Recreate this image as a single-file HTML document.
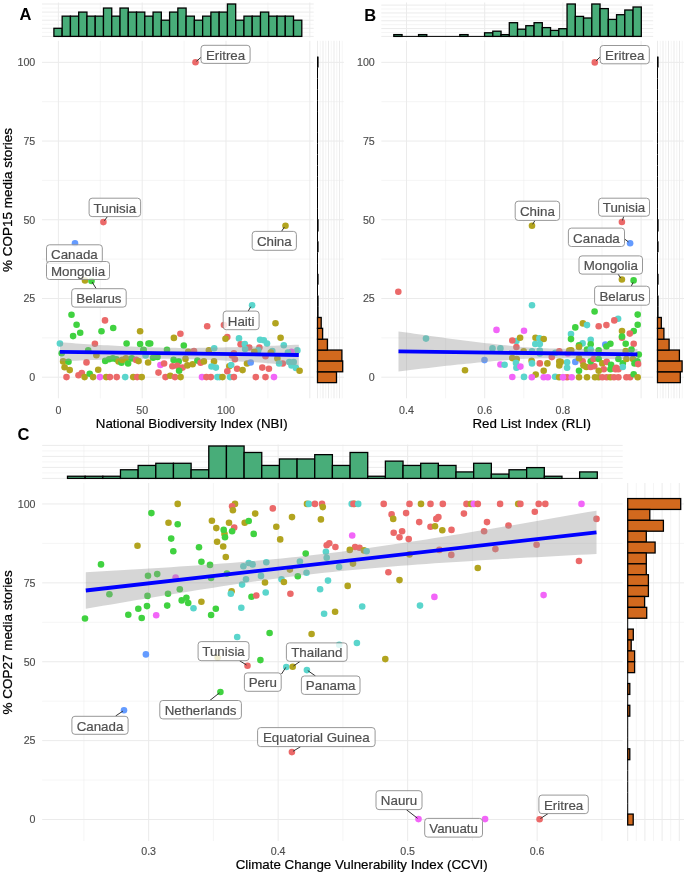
<!DOCTYPE html>
<html><head><meta charset="utf-8"><style>
html,body{margin:0;padding:0;background:#fff;}
svg{display:block;font-family:"Liberation Sans",sans-serif;will-change:transform;}
text{stroke-linejoin:round;}
</style></head><body>
<svg width="685" height="875" viewBox="0 0 685 875">
<rect width="685" height="875" fill="#fff"/>
<line x1="42" y1="36.4" x2="313.7" y2="36.4" stroke="#EBEBEB" stroke-width="1.0"/>
<line x1="42" y1="32.35" x2="313.7" y2="32.35" stroke="#EBEBEB" stroke-width="0.5"/>
<line x1="42" y1="28.3" x2="313.7" y2="28.3" stroke="#EBEBEB" stroke-width="1.0"/>
<line x1="42" y1="24.25" x2="313.7" y2="24.25" stroke="#EBEBEB" stroke-width="0.5"/>
<line x1="42" y1="20.2" x2="313.7" y2="20.2" stroke="#EBEBEB" stroke-width="1.0"/>
<line x1="42" y1="16.15" x2="313.7" y2="16.15" stroke="#EBEBEB" stroke-width="0.5"/>
<line x1="42" y1="12.1" x2="313.7" y2="12.1" stroke="#EBEBEB" stroke-width="1.0"/>
<line x1="42" y1="8.05" x2="313.7" y2="8.05" stroke="#EBEBEB" stroke-width="0.5"/>
<line x1="42" y1="4" x2="313.7" y2="4" stroke="#EBEBEB" stroke-width="1.0"/>
<line x1="58.4" y1="2.5" x2="58.4" y2="37.6" stroke="#EBEBEB" stroke-width="1.0"/>
<line x1="100.3" y1="2.5" x2="100.3" y2="37.6" stroke="#EBEBEB" stroke-width="0.5"/>
<line x1="142.2" y1="2.5" x2="142.2" y2="37.6" stroke="#EBEBEB" stroke-width="1.0"/>
<line x1="184.1" y1="2.5" x2="184.1" y2="37.6" stroke="#EBEBEB" stroke-width="0.5"/>
<line x1="226" y1="2.5" x2="226" y2="37.6" stroke="#EBEBEB" stroke-width="1.0"/>
<line x1="267.9" y1="2.5" x2="267.9" y2="37.6" stroke="#EBEBEB" stroke-width="0.5"/>
<line x1="309.8" y1="2.5" x2="309.8" y2="37.6" stroke="#EBEBEB" stroke-width="1.0"/>
<line x1="42" y1="377.2" x2="313.7" y2="377.2" stroke="#EBEBEB" stroke-width="1.0"/>
<line x1="42" y1="337.84" x2="313.7" y2="337.84" stroke="#EBEBEB" stroke-width="0.5"/>
<line x1="42" y1="298.48" x2="313.7" y2="298.48" stroke="#EBEBEB" stroke-width="1.0"/>
<line x1="42" y1="259.12" x2="313.7" y2="259.12" stroke="#EBEBEB" stroke-width="0.5"/>
<line x1="42" y1="219.76" x2="313.7" y2="219.76" stroke="#EBEBEB" stroke-width="1.0"/>
<line x1="42" y1="180.4" x2="313.7" y2="180.4" stroke="#EBEBEB" stroke-width="0.5"/>
<line x1="42" y1="141.04" x2="313.7" y2="141.04" stroke="#EBEBEB" stroke-width="1.0"/>
<line x1="42" y1="101.68" x2="313.7" y2="101.68" stroke="#EBEBEB" stroke-width="0.5"/>
<line x1="42" y1="62.32" x2="313.7" y2="62.32" stroke="#EBEBEB" stroke-width="1.0"/>
<line x1="58.4" y1="40.8" x2="58.4" y2="398.3" stroke="#EBEBEB" stroke-width="1.0"/>
<line x1="100.3" y1="40.8" x2="100.3" y2="398.3" stroke="#EBEBEB" stroke-width="0.5"/>
<line x1="142.2" y1="40.8" x2="142.2" y2="398.3" stroke="#EBEBEB" stroke-width="1.0"/>
<line x1="184.1" y1="40.8" x2="184.1" y2="398.3" stroke="#EBEBEB" stroke-width="0.5"/>
<line x1="226" y1="40.8" x2="226" y2="398.3" stroke="#EBEBEB" stroke-width="1.0"/>
<line x1="267.9" y1="40.8" x2="267.9" y2="398.3" stroke="#EBEBEB" stroke-width="0.5"/>
<line x1="309.8" y1="40.8" x2="309.8" y2="398.3" stroke="#EBEBEB" stroke-width="1.0"/>
<line x1="316.5" y1="377.2" x2="343.9" y2="377.2" stroke="#EBEBEB" stroke-width="1.0"/>
<line x1="316.5" y1="337.84" x2="343.9" y2="337.84" stroke="#EBEBEB" stroke-width="0.5"/>
<line x1="316.5" y1="298.48" x2="343.9" y2="298.48" stroke="#EBEBEB" stroke-width="1.0"/>
<line x1="316.5" y1="259.12" x2="343.9" y2="259.12" stroke="#EBEBEB" stroke-width="0.5"/>
<line x1="316.5" y1="219.76" x2="343.9" y2="219.76" stroke="#EBEBEB" stroke-width="1.0"/>
<line x1="316.5" y1="180.4" x2="343.9" y2="180.4" stroke="#EBEBEB" stroke-width="0.5"/>
<line x1="316.5" y1="141.04" x2="343.9" y2="141.04" stroke="#EBEBEB" stroke-width="1.0"/>
<line x1="316.5" y1="101.68" x2="343.9" y2="101.68" stroke="#EBEBEB" stroke-width="0.5"/>
<line x1="316.5" y1="62.32" x2="343.9" y2="62.32" stroke="#EBEBEB" stroke-width="1.0"/>
<line x1="317.5" y1="40.8" x2="317.5" y2="398.3" stroke="#EBEBEB" stroke-width="1.0"/>
<line x1="320.25" y1="40.8" x2="320.25" y2="398.3" stroke="#EBEBEB" stroke-width="0.5"/>
<line x1="323" y1="40.8" x2="323" y2="398.3" stroke="#EBEBEB" stroke-width="1.0"/>
<line x1="325.75" y1="40.8" x2="325.75" y2="398.3" stroke="#EBEBEB" stroke-width="0.5"/>
<line x1="328.5" y1="40.8" x2="328.5" y2="398.3" stroke="#EBEBEB" stroke-width="1.0"/>
<line x1="331.25" y1="40.8" x2="331.25" y2="398.3" stroke="#EBEBEB" stroke-width="0.5"/>
<line x1="334" y1="40.8" x2="334" y2="398.3" stroke="#EBEBEB" stroke-width="1.0"/>
<line x1="336.75" y1="40.8" x2="336.75" y2="398.3" stroke="#EBEBEB" stroke-width="0.5"/>
<line x1="339.5" y1="40.8" x2="339.5" y2="398.3" stroke="#EBEBEB" stroke-width="1.0"/>
<line x1="342.25" y1="40.8" x2="342.25" y2="398.3" stroke="#EBEBEB" stroke-width="0.5"/>
<line x1="381.3" y1="36.4" x2="653.2" y2="36.4" stroke="#EBEBEB" stroke-width="1.0"/>
<line x1="381.3" y1="32.49" x2="653.2" y2="32.49" stroke="#EBEBEB" stroke-width="0.5"/>
<line x1="381.3" y1="28.58" x2="653.2" y2="28.58" stroke="#EBEBEB" stroke-width="1.0"/>
<line x1="381.3" y1="24.67" x2="653.2" y2="24.67" stroke="#EBEBEB" stroke-width="0.5"/>
<line x1="381.3" y1="20.76" x2="653.2" y2="20.76" stroke="#EBEBEB" stroke-width="1.0"/>
<line x1="381.3" y1="16.85" x2="653.2" y2="16.85" stroke="#EBEBEB" stroke-width="0.5"/>
<line x1="381.3" y1="12.94" x2="653.2" y2="12.94" stroke="#EBEBEB" stroke-width="1.0"/>
<line x1="381.3" y1="9.03" x2="653.2" y2="9.03" stroke="#EBEBEB" stroke-width="0.5"/>
<line x1="381.3" y1="5.12" x2="653.2" y2="5.12" stroke="#EBEBEB" stroke-width="1.0"/>
<line x1="406.5" y1="2.5" x2="406.5" y2="37.6" stroke="#EBEBEB" stroke-width="1.0"/>
<line x1="445.6" y1="2.5" x2="445.6" y2="37.6" stroke="#EBEBEB" stroke-width="0.5"/>
<line x1="484.7" y1="2.5" x2="484.7" y2="37.6" stroke="#EBEBEB" stroke-width="1.0"/>
<line x1="523.8" y1="2.5" x2="523.8" y2="37.6" stroke="#EBEBEB" stroke-width="0.5"/>
<line x1="562.9" y1="2.5" x2="562.9" y2="37.6" stroke="#EBEBEB" stroke-width="1.0"/>
<line x1="602" y1="2.5" x2="602" y2="37.6" stroke="#EBEBEB" stroke-width="0.5"/>
<line x1="641.1" y1="2.5" x2="641.1" y2="37.6" stroke="#EBEBEB" stroke-width="1.0"/>
<line x1="381.3" y1="377.2" x2="653.2" y2="377.2" stroke="#EBEBEB" stroke-width="1.0"/>
<line x1="381.3" y1="337.84" x2="653.2" y2="337.84" stroke="#EBEBEB" stroke-width="0.5"/>
<line x1="381.3" y1="298.48" x2="653.2" y2="298.48" stroke="#EBEBEB" stroke-width="1.0"/>
<line x1="381.3" y1="259.12" x2="653.2" y2="259.12" stroke="#EBEBEB" stroke-width="0.5"/>
<line x1="381.3" y1="219.76" x2="653.2" y2="219.76" stroke="#EBEBEB" stroke-width="1.0"/>
<line x1="381.3" y1="180.4" x2="653.2" y2="180.4" stroke="#EBEBEB" stroke-width="0.5"/>
<line x1="381.3" y1="141.04" x2="653.2" y2="141.04" stroke="#EBEBEB" stroke-width="1.0"/>
<line x1="381.3" y1="101.68" x2="653.2" y2="101.68" stroke="#EBEBEB" stroke-width="0.5"/>
<line x1="381.3" y1="62.32" x2="653.2" y2="62.32" stroke="#EBEBEB" stroke-width="1.0"/>
<line x1="406.5" y1="40.8" x2="406.5" y2="398.3" stroke="#EBEBEB" stroke-width="1.0"/>
<line x1="445.6" y1="40.8" x2="445.6" y2="398.3" stroke="#EBEBEB" stroke-width="0.5"/>
<line x1="484.7" y1="40.8" x2="484.7" y2="398.3" stroke="#EBEBEB" stroke-width="1.0"/>
<line x1="523.8" y1="40.8" x2="523.8" y2="398.3" stroke="#EBEBEB" stroke-width="0.5"/>
<line x1="562.9" y1="40.8" x2="562.9" y2="398.3" stroke="#EBEBEB" stroke-width="1.0"/>
<line x1="602" y1="40.8" x2="602" y2="398.3" stroke="#EBEBEB" stroke-width="0.5"/>
<line x1="641.1" y1="40.8" x2="641.1" y2="398.3" stroke="#EBEBEB" stroke-width="1.0"/>
<line x1="656.5" y1="377.2" x2="684" y2="377.2" stroke="#EBEBEB" stroke-width="1.0"/>
<line x1="656.5" y1="337.84" x2="684" y2="337.84" stroke="#EBEBEB" stroke-width="0.5"/>
<line x1="656.5" y1="298.48" x2="684" y2="298.48" stroke="#EBEBEB" stroke-width="1.0"/>
<line x1="656.5" y1="259.12" x2="684" y2="259.12" stroke="#EBEBEB" stroke-width="0.5"/>
<line x1="656.5" y1="219.76" x2="684" y2="219.76" stroke="#EBEBEB" stroke-width="1.0"/>
<line x1="656.5" y1="180.4" x2="684" y2="180.4" stroke="#EBEBEB" stroke-width="0.5"/>
<line x1="656.5" y1="141.04" x2="684" y2="141.04" stroke="#EBEBEB" stroke-width="1.0"/>
<line x1="656.5" y1="101.68" x2="684" y2="101.68" stroke="#EBEBEB" stroke-width="0.5"/>
<line x1="656.5" y1="62.32" x2="684" y2="62.32" stroke="#EBEBEB" stroke-width="1.0"/>
<line x1="657.5" y1="40.8" x2="657.5" y2="398.3" stroke="#EBEBEB" stroke-width="1.0"/>
<line x1="660.25" y1="40.8" x2="660.25" y2="398.3" stroke="#EBEBEB" stroke-width="0.5"/>
<line x1="663" y1="40.8" x2="663" y2="398.3" stroke="#EBEBEB" stroke-width="1.0"/>
<line x1="665.75" y1="40.8" x2="665.75" y2="398.3" stroke="#EBEBEB" stroke-width="0.5"/>
<line x1="668.5" y1="40.8" x2="668.5" y2="398.3" stroke="#EBEBEB" stroke-width="1.0"/>
<line x1="671.25" y1="40.8" x2="671.25" y2="398.3" stroke="#EBEBEB" stroke-width="0.5"/>
<line x1="674" y1="40.8" x2="674" y2="398.3" stroke="#EBEBEB" stroke-width="1.0"/>
<line x1="676.75" y1="40.8" x2="676.75" y2="398.3" stroke="#EBEBEB" stroke-width="0.5"/>
<line x1="679.5" y1="40.8" x2="679.5" y2="398.3" stroke="#EBEBEB" stroke-width="1.0"/>
<line x1="682.25" y1="40.8" x2="682.25" y2="398.3" stroke="#EBEBEB" stroke-width="0.5"/>
<line x1="42.2" y1="478.4" x2="622.7" y2="478.4" stroke="#EBEBEB" stroke-width="1.0"/>
<line x1="42.2" y1="472.9" x2="622.7" y2="472.9" stroke="#EBEBEB" stroke-width="0.5"/>
<line x1="42.2" y1="467.4" x2="622.7" y2="467.4" stroke="#EBEBEB" stroke-width="1.0"/>
<line x1="42.2" y1="461.9" x2="622.7" y2="461.9" stroke="#EBEBEB" stroke-width="0.5"/>
<line x1="42.2" y1="456.4" x2="622.7" y2="456.4" stroke="#EBEBEB" stroke-width="1.0"/>
<line x1="42.2" y1="450.9" x2="622.7" y2="450.9" stroke="#EBEBEB" stroke-width="0.5"/>
<line x1="42.2" y1="445.4" x2="622.7" y2="445.4" stroke="#EBEBEB" stroke-width="1.0"/>
<line x1="83.9" y1="444.6" x2="83.9" y2="479.5" stroke="#EBEBEB" stroke-width="0.5"/>
<line x1="148.65" y1="444.6" x2="148.65" y2="479.5" stroke="#EBEBEB" stroke-width="1.0"/>
<line x1="213.4" y1="444.6" x2="213.4" y2="479.5" stroke="#EBEBEB" stroke-width="0.5"/>
<line x1="278.15" y1="444.6" x2="278.15" y2="479.5" stroke="#EBEBEB" stroke-width="1.0"/>
<line x1="342.9" y1="444.6" x2="342.9" y2="479.5" stroke="#EBEBEB" stroke-width="0.5"/>
<line x1="407.65" y1="444.6" x2="407.65" y2="479.5" stroke="#EBEBEB" stroke-width="1.0"/>
<line x1="472.4" y1="444.6" x2="472.4" y2="479.5" stroke="#EBEBEB" stroke-width="0.5"/>
<line x1="537.15" y1="444.6" x2="537.15" y2="479.5" stroke="#EBEBEB" stroke-width="1.0"/>
<line x1="601.9" y1="444.6" x2="601.9" y2="479.5" stroke="#EBEBEB" stroke-width="0.5"/>
<line x1="42.2" y1="819.5" x2="622.7" y2="819.5" stroke="#EBEBEB" stroke-width="1.0"/>
<line x1="42.2" y1="780.06" x2="622.7" y2="780.06" stroke="#EBEBEB" stroke-width="0.5"/>
<line x1="42.2" y1="740.62" x2="622.7" y2="740.62" stroke="#EBEBEB" stroke-width="1.0"/>
<line x1="42.2" y1="701.18" x2="622.7" y2="701.18" stroke="#EBEBEB" stroke-width="0.5"/>
<line x1="42.2" y1="661.74" x2="622.7" y2="661.74" stroke="#EBEBEB" stroke-width="1.0"/>
<line x1="42.2" y1="622.3" x2="622.7" y2="622.3" stroke="#EBEBEB" stroke-width="0.5"/>
<line x1="42.2" y1="582.86" x2="622.7" y2="582.86" stroke="#EBEBEB" stroke-width="1.0"/>
<line x1="42.2" y1="543.42" x2="622.7" y2="543.42" stroke="#EBEBEB" stroke-width="0.5"/>
<line x1="42.2" y1="503.98" x2="622.7" y2="503.98" stroke="#EBEBEB" stroke-width="1.0"/>
<line x1="83.9" y1="483" x2="83.9" y2="841" stroke="#EBEBEB" stroke-width="0.5"/>
<line x1="148.65" y1="483" x2="148.65" y2="841" stroke="#EBEBEB" stroke-width="1.0"/>
<line x1="213.4" y1="483" x2="213.4" y2="841" stroke="#EBEBEB" stroke-width="0.5"/>
<line x1="278.15" y1="483" x2="278.15" y2="841" stroke="#EBEBEB" stroke-width="1.0"/>
<line x1="342.9" y1="483" x2="342.9" y2="841" stroke="#EBEBEB" stroke-width="0.5"/>
<line x1="407.65" y1="483" x2="407.65" y2="841" stroke="#EBEBEB" stroke-width="1.0"/>
<line x1="472.4" y1="483" x2="472.4" y2="841" stroke="#EBEBEB" stroke-width="0.5"/>
<line x1="537.15" y1="483" x2="537.15" y2="841" stroke="#EBEBEB" stroke-width="1.0"/>
<line x1="601.9" y1="483" x2="601.9" y2="841" stroke="#EBEBEB" stroke-width="0.5"/>
<line x1="627" y1="819.5" x2="684" y2="819.5" stroke="#EBEBEB" stroke-width="1.0"/>
<line x1="627" y1="780.06" x2="684" y2="780.06" stroke="#EBEBEB" stroke-width="0.5"/>
<line x1="627" y1="740.62" x2="684" y2="740.62" stroke="#EBEBEB" stroke-width="1.0"/>
<line x1="627" y1="701.18" x2="684" y2="701.18" stroke="#EBEBEB" stroke-width="0.5"/>
<line x1="627" y1="661.74" x2="684" y2="661.74" stroke="#EBEBEB" stroke-width="1.0"/>
<line x1="627" y1="622.3" x2="684" y2="622.3" stroke="#EBEBEB" stroke-width="0.5"/>
<line x1="627" y1="582.86" x2="684" y2="582.86" stroke="#EBEBEB" stroke-width="1.0"/>
<line x1="627" y1="543.42" x2="684" y2="543.42" stroke="#EBEBEB" stroke-width="0.5"/>
<line x1="627" y1="503.98" x2="684" y2="503.98" stroke="#EBEBEB" stroke-width="1.0"/>
<line x1="627.7" y1="483" x2="627.7" y2="841" stroke="#EBEBEB" stroke-width="1.0"/>
<line x1="636.3" y1="483" x2="636.3" y2="841" stroke="#EBEBEB" stroke-width="0.5"/>
<line x1="644.9" y1="483" x2="644.9" y2="841" stroke="#EBEBEB" stroke-width="1.0"/>
<line x1="653.5" y1="483" x2="653.5" y2="841" stroke="#EBEBEB" stroke-width="0.5"/>
<line x1="662.1" y1="483" x2="662.1" y2="841" stroke="#EBEBEB" stroke-width="1.0"/>
<line x1="670.7" y1="483" x2="670.7" y2="841" stroke="#EBEBEB" stroke-width="0.5"/>
<line x1="679.3" y1="483" x2="679.3" y2="841" stroke="#EBEBEB" stroke-width="1.0"/>
<rect x="53.9" y="28.3" width="8.26" height="8.1" fill="#48AD79" stroke="#000" stroke-width="1.3"/>
<rect x="62.16" y="16.15" width="8.26" height="20.25" fill="#48AD79" stroke="#000" stroke-width="1.3"/>
<rect x="70.43" y="16.15" width="8.26" height="20.25" fill="#48AD79" stroke="#000" stroke-width="1.3"/>
<rect x="78.69" y="12.1" width="8.26" height="24.3" fill="#48AD79" stroke="#000" stroke-width="1.3"/>
<rect x="86.95" y="16.15" width="8.26" height="20.25" fill="#48AD79" stroke="#000" stroke-width="1.3"/>
<rect x="95.22" y="16.15" width="8.26" height="20.25" fill="#48AD79" stroke="#000" stroke-width="1.3"/>
<rect x="103.48" y="8.05" width="8.26" height="28.35" fill="#48AD79" stroke="#000" stroke-width="1.3"/>
<rect x="111.74" y="16.15" width="8.26" height="20.25" fill="#48AD79" stroke="#000" stroke-width="1.3"/>
<rect x="120.01" y="8.05" width="8.26" height="28.35" fill="#48AD79" stroke="#000" stroke-width="1.3"/>
<rect x="128.27" y="12.1" width="8.26" height="24.3" fill="#48AD79" stroke="#000" stroke-width="1.3"/>
<rect x="136.53" y="12.1" width="8.26" height="24.3" fill="#48AD79" stroke="#000" stroke-width="1.3"/>
<rect x="144.8" y="16.15" width="8.26" height="20.25" fill="#48AD79" stroke="#000" stroke-width="1.3"/>
<rect x="153.06" y="12.1" width="8.26" height="24.3" fill="#48AD79" stroke="#000" stroke-width="1.3"/>
<rect x="161.32" y="20.2" width="8.26" height="16.2" fill="#48AD79" stroke="#000" stroke-width="1.3"/>
<rect x="169.59" y="12.1" width="8.26" height="24.3" fill="#48AD79" stroke="#000" stroke-width="1.3"/>
<rect x="177.85" y="8.05" width="8.26" height="28.35" fill="#48AD79" stroke="#000" stroke-width="1.3"/>
<rect x="186.11" y="16.15" width="8.26" height="20.25" fill="#48AD79" stroke="#000" stroke-width="1.3"/>
<rect x="194.38" y="20.2" width="8.26" height="16.2" fill="#48AD79" stroke="#000" stroke-width="1.3"/>
<rect x="202.64" y="16.15" width="8.26" height="20.25" fill="#48AD79" stroke="#000" stroke-width="1.3"/>
<rect x="210.9" y="12.1" width="8.26" height="24.3" fill="#48AD79" stroke="#000" stroke-width="1.3"/>
<rect x="219.17" y="12.1" width="8.26" height="24.3" fill="#48AD79" stroke="#000" stroke-width="1.3"/>
<rect x="227.43" y="4" width="8.26" height="32.4" fill="#48AD79" stroke="#000" stroke-width="1.3"/>
<rect x="235.69" y="20.2" width="8.26" height="16.2" fill="#48AD79" stroke="#000" stroke-width="1.3"/>
<rect x="243.96" y="16.15" width="8.26" height="20.25" fill="#48AD79" stroke="#000" stroke-width="1.3"/>
<rect x="252.22" y="16.15" width="8.26" height="20.25" fill="#48AD79" stroke="#000" stroke-width="1.3"/>
<rect x="260.48" y="12.1" width="8.26" height="24.3" fill="#48AD79" stroke="#000" stroke-width="1.3"/>
<rect x="268.75" y="16.15" width="8.26" height="20.25" fill="#48AD79" stroke="#000" stroke-width="1.3"/>
<rect x="277.01" y="16.15" width="8.26" height="20.25" fill="#48AD79" stroke="#000" stroke-width="1.3"/>
<rect x="285.27" y="16.15" width="8.26" height="20.25" fill="#48AD79" stroke="#000" stroke-width="1.3"/>
<rect x="293.54" y="20.2" width="8.26" height="16.2" fill="#48AD79" stroke="#000" stroke-width="1.3"/>
<line x1="393.8" y1="36.4" x2="641.3" y2="36.4" stroke="#000" stroke-width="1"/>
<rect x="393.8" y="34.6" width="8.25" height="1.8" fill="#48AD79" stroke="#000" stroke-width="1.3"/>
<rect x="418.55" y="34.6" width="8.25" height="1.8" fill="#48AD79" stroke="#000" stroke-width="1.3"/>
<rect x="459.8" y="34.6" width="8.25" height="1.8" fill="#48AD79" stroke="#000" stroke-width="1.3"/>
<rect x="484.55" y="32.8" width="8.25" height="3.6" fill="#48AD79" stroke="#000" stroke-width="1.3"/>
<rect x="492.8" y="31.2" width="8.25" height="5.2" fill="#48AD79" stroke="#000" stroke-width="1.3"/>
<rect x="501.05" y="34.6" width="8.25" height="1.8" fill="#48AD79" stroke="#000" stroke-width="1.3"/>
<rect x="509.3" y="22.7" width="8.25" height="13.7" fill="#48AD79" stroke="#000" stroke-width="1.3"/>
<rect x="517.55" y="29.2" width="8.25" height="7.2" fill="#48AD79" stroke="#000" stroke-width="1.3"/>
<rect x="525.8" y="25.7" width="8.25" height="10.7" fill="#48AD79" stroke="#000" stroke-width="1.3"/>
<rect x="534.05" y="22.7" width="8.25" height="13.7" fill="#48AD79" stroke="#000" stroke-width="1.3"/>
<rect x="542.3" y="27.6" width="8.25" height="8.8" fill="#48AD79" stroke="#000" stroke-width="1.3"/>
<rect x="550.55" y="30.4" width="8.25" height="6" fill="#48AD79" stroke="#000" stroke-width="1.3"/>
<rect x="558.8" y="28.7" width="8.25" height="7.7" fill="#48AD79" stroke="#000" stroke-width="1.3"/>
<rect x="567.05" y="4" width="8.25" height="32.4" fill="#48AD79" stroke="#000" stroke-width="1.3"/>
<rect x="575.3" y="16.4" width="8.25" height="20" fill="#48AD79" stroke="#000" stroke-width="1.3"/>
<rect x="583.55" y="18" width="8.25" height="18.4" fill="#48AD79" stroke="#000" stroke-width="1.3"/>
<rect x="591.8" y="4" width="8.25" height="32.4" fill="#48AD79" stroke="#000" stroke-width="1.3"/>
<rect x="600.05" y="8.6" width="8.25" height="27.8" fill="#48AD79" stroke="#000" stroke-width="1.3"/>
<rect x="608.3" y="19.4" width="8.25" height="17" fill="#48AD79" stroke="#000" stroke-width="1.3"/>
<rect x="616.55" y="14.7" width="8.25" height="21.7" fill="#48AD79" stroke="#000" stroke-width="1.3"/>
<rect x="624.8" y="10" width="8.25" height="26.4" fill="#48AD79" stroke="#000" stroke-width="1.3"/>
<rect x="633.05" y="7" width="8.25" height="29.4" fill="#48AD79" stroke="#000" stroke-width="1.3"/>
<rect x="67.5" y="476.24" width="17.66" height="2.16" fill="#48AD79" stroke="#000" stroke-width="1.3"/>
<rect x="85.16" y="476.24" width="17.66" height="2.16" fill="#48AD79" stroke="#000" stroke-width="1.3"/>
<rect x="102.82" y="476.24" width="17.66" height="2.16" fill="#48AD79" stroke="#000" stroke-width="1.3"/>
<rect x="120.48" y="469.76" width="17.66" height="8.64" fill="#48AD79" stroke="#000" stroke-width="1.3"/>
<rect x="138.14" y="465.44" width="17.66" height="12.96" fill="#48AD79" stroke="#000" stroke-width="1.3"/>
<rect x="155.8" y="463.28" width="17.66" height="15.12" fill="#48AD79" stroke="#000" stroke-width="1.3"/>
<rect x="173.46" y="463.28" width="17.66" height="15.12" fill="#48AD79" stroke="#000" stroke-width="1.3"/>
<rect x="191.12" y="469.76" width="17.66" height="8.64" fill="#48AD79" stroke="#000" stroke-width="1.3"/>
<rect x="208.78" y="446" width="17.66" height="32.4" fill="#48AD79" stroke="#000" stroke-width="1.3"/>
<rect x="226.44" y="446" width="17.66" height="32.4" fill="#48AD79" stroke="#000" stroke-width="1.3"/>
<rect x="244.1" y="452.48" width="17.66" height="25.92" fill="#48AD79" stroke="#000" stroke-width="1.3"/>
<rect x="261.76" y="465.44" width="17.66" height="12.96" fill="#48AD79" stroke="#000" stroke-width="1.3"/>
<rect x="279.42" y="458.96" width="17.66" height="19.44" fill="#48AD79" stroke="#000" stroke-width="1.3"/>
<rect x="297.08" y="458.96" width="17.66" height="19.44" fill="#48AD79" stroke="#000" stroke-width="1.3"/>
<rect x="314.74" y="454.64" width="17.66" height="23.76" fill="#48AD79" stroke="#000" stroke-width="1.3"/>
<rect x="332.4" y="465.44" width="17.66" height="12.96" fill="#48AD79" stroke="#000" stroke-width="1.3"/>
<rect x="350.06" y="452.48" width="17.66" height="25.92" fill="#48AD79" stroke="#000" stroke-width="1.3"/>
<rect x="367.72" y="476.24" width="17.66" height="2.16" fill="#48AD79" stroke="#000" stroke-width="1.3"/>
<rect x="385.38" y="461.12" width="17.66" height="17.28" fill="#48AD79" stroke="#000" stroke-width="1.3"/>
<rect x="403.04" y="465.44" width="17.66" height="12.96" fill="#48AD79" stroke="#000" stroke-width="1.3"/>
<rect x="420.7" y="463.28" width="17.66" height="15.12" fill="#48AD79" stroke="#000" stroke-width="1.3"/>
<rect x="438.36" y="465.44" width="17.66" height="12.96" fill="#48AD79" stroke="#000" stroke-width="1.3"/>
<rect x="456.02" y="471.92" width="17.66" height="6.48" fill="#48AD79" stroke="#000" stroke-width="1.3"/>
<rect x="473.68" y="463.28" width="17.66" height="15.12" fill="#48AD79" stroke="#000" stroke-width="1.3"/>
<rect x="491.34" y="474.08" width="17.66" height="4.32" fill="#48AD79" stroke="#000" stroke-width="1.3"/>
<rect x="509" y="469.76" width="17.66" height="8.64" fill="#48AD79" stroke="#000" stroke-width="1.3"/>
<rect x="526.66" y="467.6" width="17.66" height="10.8" fill="#48AD79" stroke="#000" stroke-width="1.3"/>
<rect x="544.32" y="476.24" width="17.66" height="2.16" fill="#48AD79" stroke="#000" stroke-width="1.3"/>
<line x1="561.98" y1="478.4" x2="579.64" y2="478.4" stroke="#000" stroke-width="1"/>
<rect x="579.64" y="471.92" width="17.66" height="6.48" fill="#48AD79" stroke="#000" stroke-width="1.3"/>
<rect x="317.5" y="371.77" width="19" height="10.86" fill="#D2691E" stroke="#000" stroke-width="1.3"/>
<rect x="317.5" y="360.91" width="25.2" height="10.86" fill="#D2691E" stroke="#000" stroke-width="1.3"/>
<rect x="317.5" y="350.05" width="24.4" height="10.86" fill="#D2691E" stroke="#000" stroke-width="1.3"/>
<rect x="317.5" y="339.19" width="9.9" height="10.86" fill="#D2691E" stroke="#000" stroke-width="1.3"/>
<rect x="317.5" y="328.33" width="5.1" height="10.86" fill="#D2691E" stroke="#000" stroke-width="1.3"/>
<rect x="317.5" y="317.47" width="3.7" height="10.86" fill="#D2691E" stroke="#000" stroke-width="1.3"/>
<line x1="317.5" y1="306.61" x2="317.5" y2="317.47" stroke="#000" stroke-width="1"/>
<line x1="317.5" y1="295.75" x2="317.5" y2="306.61" stroke="#000" stroke-width="1"/>
<line x1="317.5" y1="284.89" x2="317.5" y2="295.75" stroke="#000" stroke-width="1"/>
<line x1="317.5" y1="274.03" x2="317.5" y2="284.89" stroke="#000" stroke-width="1"/>
<line x1="317.5" y1="263.17" x2="317.5" y2="274.03" stroke="#000" stroke-width="1"/>
<line x1="317.5" y1="252.31" x2="317.5" y2="263.17" stroke="#000" stroke-width="1"/>
<line x1="317.5" y1="241.45" x2="317.5" y2="252.31" stroke="#000" stroke-width="1"/>
<line x1="317.5" y1="230.59" x2="317.5" y2="241.45" stroke="#000" stroke-width="1"/>
<line x1="317.5" y1="219.73" x2="317.5" y2="230.59" stroke="#000" stroke-width="1"/>
<line x1="317.5" y1="208.87" x2="317.5" y2="219.73" stroke="#000" stroke-width="1"/>
<line x1="317.5" y1="198.01" x2="317.5" y2="208.87" stroke="#000" stroke-width="1"/>
<line x1="317.5" y1="187.15" x2="317.5" y2="198.01" stroke="#000" stroke-width="1"/>
<line x1="317.5" y1="176.29" x2="317.5" y2="187.15" stroke="#000" stroke-width="1"/>
<line x1="317.5" y1="165.43" x2="317.5" y2="176.29" stroke="#000" stroke-width="1"/>
<line x1="317.5" y1="154.57" x2="317.5" y2="165.43" stroke="#000" stroke-width="1"/>
<line x1="317.5" y1="143.71" x2="317.5" y2="154.57" stroke="#000" stroke-width="1"/>
<line x1="317.5" y1="132.85" x2="317.5" y2="143.71" stroke="#000" stroke-width="1"/>
<line x1="317.5" y1="121.99" x2="317.5" y2="132.85" stroke="#000" stroke-width="1"/>
<line x1="317.5" y1="111.13" x2="317.5" y2="121.99" stroke="#000" stroke-width="1"/>
<line x1="317.5" y1="100.27" x2="317.5" y2="111.13" stroke="#000" stroke-width="1"/>
<line x1="317.5" y1="89.41" x2="317.5" y2="100.27" stroke="#000" stroke-width="1"/>
<line x1="317.5" y1="78.55" x2="317.5" y2="89.41" stroke="#000" stroke-width="1"/>
<line x1="317.5" y1="67.69" x2="317.5" y2="78.55" stroke="#000" stroke-width="1"/>
<line x1="317.5" y1="56.83" x2="317.5" y2="67.69" stroke="#000" stroke-width="1"/>
<rect x="317" y="56.6" width="1.6" height="10.9" fill="#000"/>
<rect x="317" y="219.2" width="1.6" height="12.3" fill="#000"/>
<rect x="317" y="241.3" width="1.6" height="10.9" fill="#000"/>
<rect x="317" y="273.8" width="1.6" height="10.9" fill="#000"/>
<rect x="317" y="295.5" width="1.6" height="10.9" fill="#000"/>
<rect x="317" y="306.4" width="1.6" height="10.9" fill="#000"/>
<rect x="657.5" y="371.77" width="22.8" height="10.86" fill="#D2691E" stroke="#000" stroke-width="1.3"/>
<rect x="657.5" y="360.91" width="24.6" height="10.86" fill="#D2691E" stroke="#000" stroke-width="1.3"/>
<rect x="657.5" y="350.05" width="21.9" height="10.86" fill="#D2691E" stroke="#000" stroke-width="1.3"/>
<rect x="657.5" y="339.19" width="11.6" height="10.86" fill="#D2691E" stroke="#000" stroke-width="1.3"/>
<rect x="657.5" y="328.33" width="6.4" height="10.86" fill="#D2691E" stroke="#000" stroke-width="1.3"/>
<rect x="657.5" y="317.47" width="3.8" height="10.86" fill="#D2691E" stroke="#000" stroke-width="1.3"/>
<line x1="657.5" y1="306.61" x2="657.5" y2="317.47" stroke="#000" stroke-width="1"/>
<line x1="657.5" y1="295.75" x2="657.5" y2="306.61" stroke="#000" stroke-width="1"/>
<line x1="657.5" y1="284.89" x2="657.5" y2="295.75" stroke="#000" stroke-width="1"/>
<line x1="657.5" y1="274.03" x2="657.5" y2="284.89" stroke="#000" stroke-width="1"/>
<line x1="657.5" y1="263.17" x2="657.5" y2="274.03" stroke="#000" stroke-width="1"/>
<line x1="657.5" y1="252.31" x2="657.5" y2="263.17" stroke="#000" stroke-width="1"/>
<line x1="657.5" y1="241.45" x2="657.5" y2="252.31" stroke="#000" stroke-width="1"/>
<line x1="657.5" y1="230.59" x2="657.5" y2="241.45" stroke="#000" stroke-width="1"/>
<line x1="657.5" y1="219.73" x2="657.5" y2="230.59" stroke="#000" stroke-width="1"/>
<line x1="657.5" y1="208.87" x2="657.5" y2="219.73" stroke="#000" stroke-width="1"/>
<line x1="657.5" y1="198.01" x2="657.5" y2="208.87" stroke="#000" stroke-width="1"/>
<line x1="657.5" y1="187.15" x2="657.5" y2="198.01" stroke="#000" stroke-width="1"/>
<line x1="657.5" y1="176.29" x2="657.5" y2="187.15" stroke="#000" stroke-width="1"/>
<line x1="657.5" y1="165.43" x2="657.5" y2="176.29" stroke="#000" stroke-width="1"/>
<line x1="657.5" y1="154.57" x2="657.5" y2="165.43" stroke="#000" stroke-width="1"/>
<line x1="657.5" y1="143.71" x2="657.5" y2="154.57" stroke="#000" stroke-width="1"/>
<line x1="657.5" y1="132.85" x2="657.5" y2="143.71" stroke="#000" stroke-width="1"/>
<line x1="657.5" y1="121.99" x2="657.5" y2="132.85" stroke="#000" stroke-width="1"/>
<line x1="657.5" y1="111.13" x2="657.5" y2="121.99" stroke="#000" stroke-width="1"/>
<line x1="657.5" y1="100.27" x2="657.5" y2="111.13" stroke="#000" stroke-width="1"/>
<line x1="657.5" y1="89.41" x2="657.5" y2="100.27" stroke="#000" stroke-width="1"/>
<line x1="657.5" y1="78.55" x2="657.5" y2="89.41" stroke="#000" stroke-width="1"/>
<line x1="657.5" y1="67.69" x2="657.5" y2="78.55" stroke="#000" stroke-width="1"/>
<line x1="657.5" y1="56.83" x2="657.5" y2="67.69" stroke="#000" stroke-width="1"/>
<rect x="657" y="56.6" width="1.6" height="10.9" fill="#000"/>
<rect x="657" y="219.2" width="1.6" height="12.3" fill="#000"/>
<rect x="657" y="241.3" width="1.6" height="10.9" fill="#000"/>
<rect x="657" y="273.8" width="1.6" height="10.9" fill="#000"/>
<rect x="657" y="295.5" width="1.6" height="10.9" fill="#000"/>
<rect x="657" y="306.4" width="1.6" height="10.9" fill="#000"/>
<rect x="627.7" y="498.56" width="53" height="10.88" fill="#D2691E" stroke="#000" stroke-width="1.3"/>
<rect x="627.7" y="509.44" width="22.1" height="10.88" fill="#D2691E" stroke="#000" stroke-width="1.3"/>
<rect x="627.7" y="520.32" width="35.7" height="10.88" fill="#D2691E" stroke="#000" stroke-width="1.3"/>
<rect x="627.7" y="531.2" width="18.6" height="10.88" fill="#D2691E" stroke="#000" stroke-width="1.3"/>
<rect x="627.7" y="542.08" width="27.4" height="10.88" fill="#D2691E" stroke="#000" stroke-width="1.3"/>
<rect x="627.7" y="552.96" width="18.6" height="10.88" fill="#D2691E" stroke="#000" stroke-width="1.3"/>
<rect x="627.7" y="563.84" width="18.6" height="10.88" fill="#D2691E" stroke="#000" stroke-width="1.3"/>
<rect x="627.7" y="574.72" width="20.7" height="10.88" fill="#D2691E" stroke="#000" stroke-width="1.3"/>
<rect x="627.7" y="585.6" width="20.7" height="10.88" fill="#D2691E" stroke="#000" stroke-width="1.3"/>
<rect x="627.7" y="596.48" width="16.9" height="10.88" fill="#D2691E" stroke="#000" stroke-width="1.3"/>
<rect x="627.7" y="607.36" width="19" height="10.88" fill="#D2691E" stroke="#000" stroke-width="1.3"/>
<line x1="627.7" y1="618.24" x2="627.7" y2="629.12" stroke="#000" stroke-width="1"/>
<rect x="627.7" y="629.12" width="5.6" height="10.88" fill="#D2691E" stroke="#000" stroke-width="1.3"/>
<rect x="627.7" y="640" width="3.5" height="10.88" fill="#D2691E" stroke="#000" stroke-width="1.3"/>
<rect x="627.7" y="650.88" width="6.9" height="10.88" fill="#D2691E" stroke="#000" stroke-width="1.3"/>
<rect x="627.7" y="661.76" width="6.9" height="10.88" fill="#D2691E" stroke="#000" stroke-width="1.3"/>
<line x1="627.7" y1="672.64" x2="627.7" y2="683.52" stroke="#000" stroke-width="1"/>
<rect x="627.7" y="683.52" width="2.1" height="10.88" fill="#D2691E" stroke="#000" stroke-width="1.3"/>
<line x1="627.7" y1="694.4" x2="627.7" y2="705.28" stroke="#000" stroke-width="1"/>
<rect x="627.7" y="705.28" width="2.1" height="10.88" fill="#D2691E" stroke="#000" stroke-width="1.3"/>
<line x1="627.7" y1="716.16" x2="627.7" y2="727.04" stroke="#000" stroke-width="1"/>
<line x1="627.7" y1="727.04" x2="627.7" y2="737.92" stroke="#000" stroke-width="1"/>
<line x1="627.7" y1="737.92" x2="627.7" y2="748.8" stroke="#000" stroke-width="1"/>
<rect x="627.7" y="748.8" width="2.1" height="10.88" fill="#D2691E" stroke="#000" stroke-width="1.3"/>
<line x1="627.7" y1="759.68" x2="627.7" y2="770.56" stroke="#000" stroke-width="1"/>
<line x1="627.7" y1="770.56" x2="627.7" y2="781.44" stroke="#000" stroke-width="1"/>
<line x1="627.7" y1="781.44" x2="627.7" y2="792.32" stroke="#000" stroke-width="1"/>
<line x1="627.7" y1="792.32" x2="627.7" y2="803.2" stroke="#000" stroke-width="1"/>
<line x1="627.7" y1="803.2" x2="627.7" y2="814.08" stroke="#000" stroke-width="1"/>
<rect x="627.7" y="814.08" width="5.5" height="10.88" fill="#D2691E" stroke="#000" stroke-width="1.3"/>
<circle cx="195.5" cy="62.2" r="3.3" fill="#EB6969"/>
<circle cx="103.4" cy="222.1" r="3.3" fill="#EB6969"/>
<circle cx="285.5" cy="225.8" r="3.3" fill="#B2A41F"/>
<circle cx="75" cy="243.2" r="3.3" fill="#649BFF"/>
<circle cx="85" cy="280.5" r="3.3" fill="#B2A41F"/>
<circle cx="91.5" cy="281" r="3.3" fill="#40D240"/>
<circle cx="252.1" cy="305.2" r="3.3" fill="#5AD5CC"/>
<circle cx="71.5" cy="314.8" r="3.3" fill="#40D240"/>
<circle cx="76.6" cy="324.7" r="3.3" fill="#40D240"/>
<circle cx="80.2" cy="332.8" r="3.3" fill="#40D240"/>
<circle cx="73.1" cy="336.1" r="3.3" fill="#40D240"/>
<circle cx="105" cy="320.4" r="3.3" fill="#EB6969"/>
<circle cx="101.5" cy="331.3" r="3.3" fill="#40D240"/>
<circle cx="113.2" cy="328" r="3.3" fill="#40D240"/>
<circle cx="140.1" cy="331.3" r="3.3" fill="#B2A41F"/>
<circle cx="59.9" cy="343.5" r="3.3" fill="#5AD5CC"/>
<circle cx="94.9" cy="343.7" r="3.3" fill="#EB6969"/>
<circle cx="126.6" cy="343.5" r="3.3" fill="#40D240"/>
<circle cx="140.1" cy="344" r="3.3" fill="#40D240"/>
<circle cx="148.5" cy="343.5" r="3.3" fill="#40D240"/>
<circle cx="61.7" cy="353.3" r="3.3" fill="#40D240"/>
<circle cx="88.2" cy="350.4" r="3.3" fill="#40D240"/>
<circle cx="96.4" cy="355.2" r="3.3" fill="#B2A41F"/>
<circle cx="143.4" cy="350.4" r="3.3" fill="#40D240"/>
<circle cx="145.6" cy="355.5" r="3.3" fill="#5AD5CC"/>
<circle cx="63.1" cy="361.4" r="3.3" fill="#B2A41F"/>
<circle cx="68.5" cy="361.8" r="3.3" fill="#40D240"/>
<circle cx="86.5" cy="362.4" r="3.3" fill="#EB6969"/>
<circle cx="105.2" cy="360.9" r="3.3" fill="#40D240"/>
<circle cx="109.1" cy="359.2" r="3.3" fill="#40D240"/>
<circle cx="112.8" cy="358.4" r="3.3" fill="#40D240"/>
<circle cx="116.4" cy="359.2" r="3.3" fill="#40D240"/>
<circle cx="118.6" cy="361.4" r="3.3" fill="#B2A41F"/>
<circle cx="121.5" cy="362.8" r="3.3" fill="#40D240"/>
<circle cx="122.3" cy="359.9" r="3.3" fill="#B2A41F"/>
<circle cx="125.9" cy="358.4" r="3.3" fill="#B2A41F"/>
<circle cx="128.1" cy="363.5" r="3.3" fill="#40D240"/>
<circle cx="131.8" cy="358.4" r="3.3" fill="#40D240"/>
<circle cx="136.1" cy="359.9" r="3.3" fill="#EB6969"/>
<circle cx="138.6" cy="361.1" r="3.3" fill="#B2A41F"/>
<circle cx="148.1" cy="362.5" r="3.3" fill="#B2A41F"/>
<circle cx="64.6" cy="367.2" r="3.3" fill="#B2A41F"/>
<circle cx="69.7" cy="370.1" r="3.3" fill="#B2A41F"/>
<circle cx="98.2" cy="369.8" r="3.3" fill="#B2A41F"/>
<circle cx="66.5" cy="377.1" r="3.3" fill="#EB6969"/>
<circle cx="78.5" cy="375.2" r="3.3" fill="#EB6969"/>
<circle cx="81.8" cy="373" r="3.3" fill="#EB6969"/>
<circle cx="84.6" cy="377.1" r="3.3" fill="#B2A41F"/>
<circle cx="89.7" cy="373.8" r="3.3" fill="#40D240"/>
<circle cx="93.1" cy="377.1" r="3.3" fill="#B2A41F"/>
<circle cx="99.9" cy="377.1" r="3.3" fill="#F265F8"/>
<circle cx="106.2" cy="377.1" r="3.3" fill="#B2A41F"/>
<circle cx="109.9" cy="377.1" r="3.3" fill="#EB6969"/>
<circle cx="116.7" cy="377.1" r="3.3" fill="#EB6969"/>
<circle cx="125.2" cy="377.1" r="3.3" fill="#5AD5CC"/>
<circle cx="133.2" cy="377.1" r="3.3" fill="#B2A41F"/>
<circle cx="137.2" cy="377.1" r="3.3" fill="#EB6969"/>
<circle cx="141.7" cy="377.1" r="3.3" fill="#B2A41F"/>
<circle cx="207.2" cy="326.2" r="3.3" fill="#EB6969"/>
<circle cx="223.9" cy="325" r="3.3" fill="#EB6969"/>
<circle cx="173.9" cy="337.9" r="3.3" fill="#B2A41F"/>
<circle cx="180.4" cy="333.8" r="3.3" fill="#EB6969"/>
<circle cx="150.2" cy="343.5" r="3.3" fill="#40D240"/>
<circle cx="183.8" cy="345.5" r="3.3" fill="#40D240"/>
<circle cx="143.6" cy="349.7" r="3.3" fill="#40D240"/>
<circle cx="167" cy="349.7" r="3.3" fill="#40D240"/>
<circle cx="188.2" cy="351.9" r="3.3" fill="#B2A41F"/>
<circle cx="194" cy="351.1" r="3.3" fill="#EB6969"/>
<circle cx="208.9" cy="350.4" r="3.3" fill="#B2A41F"/>
<circle cx="214.2" cy="348.2" r="3.3" fill="#5AD5CC"/>
<circle cx="153.1" cy="357.7" r="3.3" fill="#40D240"/>
<circle cx="157.5" cy="357" r="3.3" fill="#40D240"/>
<circle cx="160.4" cy="365" r="3.3" fill="#F265F8"/>
<circle cx="164.1" cy="363.5" r="3.3" fill="#EB6969"/>
<circle cx="173.6" cy="359.9" r="3.3" fill="#40D240"/>
<circle cx="178.7" cy="361.4" r="3.3" fill="#40D240"/>
<circle cx="185.5" cy="358.9" r="3.3" fill="#B2A41F"/>
<circle cx="172.4" cy="366.2" r="3.3" fill="#EB6969"/>
<circle cx="177.2" cy="365.7" r="3.3" fill="#EB6969"/>
<circle cx="182.6" cy="367.6" r="3.3" fill="#EB6969"/>
<circle cx="179.1" cy="370.8" r="3.3" fill="#40D240"/>
<circle cx="187.4" cy="365.4" r="3.3" fill="#B2A41F"/>
<circle cx="192.6" cy="364.3" r="3.3" fill="#B2A41F"/>
<circle cx="197.4" cy="360.6" r="3.3" fill="#40D240"/>
<circle cx="200.6" cy="362.8" r="3.3" fill="#EB6969"/>
<circle cx="203.9" cy="361.4" r="3.3" fill="#B2A41F"/>
<circle cx="214" cy="361.4" r="3.3" fill="#B2A41F"/>
<circle cx="211.5" cy="366.5" r="3.3" fill="#5AD5CC"/>
<circle cx="215.9" cy="367.6" r="3.3" fill="#5AD5CC"/>
<circle cx="229.3" cy="366.2" r="3.3" fill="#B2A41F"/>
<circle cx="231.2" cy="365" r="3.3" fill="#5AD5CC"/>
<circle cx="227.3" cy="371.3" r="3.3" fill="#EB6969"/>
<circle cx="237.1" cy="368.7" r="3.3" fill="#EB6969"/>
<circle cx="234.9" cy="359.2" r="3.3" fill="#EB6969"/>
<circle cx="232" cy="355.5" r="3.3" fill="#EB6969"/>
<circle cx="158.5" cy="372.6" r="3.3" fill="#EB6969"/>
<circle cx="165.5" cy="377.1" r="3.3" fill="#EB6969"/>
<circle cx="170.2" cy="375.7" r="3.3" fill="#B2A41F"/>
<circle cx="175" cy="377.1" r="3.3" fill="#EB6969"/>
<circle cx="180.6" cy="377.1" r="3.3" fill="#B2A41F"/>
<circle cx="202" cy="377.1" r="3.3" fill="#F265F8"/>
<circle cx="206.4" cy="377.1" r="3.3" fill="#EB6969"/>
<circle cx="210.8" cy="377.1" r="3.3" fill="#EB6969"/>
<circle cx="217.4" cy="377.1" r="3.3" fill="#5AD5CC"/>
<circle cx="219.6" cy="377.1" r="3.3" fill="#5AD5CC"/>
<circle cx="222.5" cy="377.1" r="3.3" fill="#B2A41F"/>
<circle cx="230.1" cy="377.1" r="3.3" fill="#5AD5CC"/>
<circle cx="233.9" cy="377.1" r="3.3" fill="#EB6969"/>
<circle cx="275.5" cy="323.2" r="3.3" fill="#B2A41F"/>
<circle cx="227.3" cy="337" r="3.3" fill="#EB6969"/>
<circle cx="225.5" cy="338.8" r="3.3" fill="#B2A41F"/>
<circle cx="239" cy="338.4" r="3.3" fill="#5AD5CC"/>
<circle cx="260.1" cy="339.8" r="3.3" fill="#5AD5CC"/>
<circle cx="263.8" cy="340.3" r="3.3" fill="#5AD5CC"/>
<circle cx="267" cy="343.5" r="3.3" fill="#5AD5CC"/>
<circle cx="280.6" cy="337.8" r="3.3" fill="#B2A41F"/>
<circle cx="240.6" cy="344.2" r="3.3" fill="#EB6969"/>
<circle cx="244.8" cy="344" r="3.3" fill="#5AD5CC"/>
<circle cx="283.8" cy="345.3" r="3.3" fill="#5AD5CC"/>
<circle cx="249.2" cy="347.5" r="3.3" fill="#EB6969"/>
<circle cx="245.1" cy="349" r="3.3" fill="#5AD5CC"/>
<circle cx="259.4" cy="347.5" r="3.3" fill="#EB6969"/>
<circle cx="258.2" cy="350.4" r="3.3" fill="#5AD5CC"/>
<circle cx="254.3" cy="351.9" r="3.3" fill="#B2A41F"/>
<circle cx="272.3" cy="351.1" r="3.3" fill="#5AD5CC"/>
<circle cx="270.8" cy="352.6" r="3.3" fill="#B2A41F"/>
<circle cx="297.4" cy="350.4" r="3.3" fill="#5AD5CC"/>
<circle cx="291.5" cy="351.9" r="3.3" fill="#F265F8"/>
<circle cx="287.9" cy="352.6" r="3.3" fill="#5AD5CC"/>
<circle cx="233.9" cy="353.3" r="3.3" fill="#EB6969"/>
<circle cx="265.5" cy="356.2" r="3.3" fill="#EB6969"/>
<circle cx="277.4" cy="358.4" r="3.3" fill="#B2A41F"/>
<circle cx="247" cy="363.5" r="3.3" fill="#B2A41F"/>
<circle cx="250.7" cy="362.5" r="3.3" fill="#649BFF"/>
<circle cx="282.8" cy="363.5" r="3.3" fill="#EB6969"/>
<circle cx="279.1" cy="363.5" r="3.3" fill="#5AD5CC"/>
<circle cx="291.5" cy="365.5" r="3.3" fill="#5AD5CC"/>
<circle cx="289.3" cy="362.1" r="3.3" fill="#5AD5CC"/>
<circle cx="293.7" cy="362.1" r="3.3" fill="#5AD5CC"/>
<circle cx="295.9" cy="367.9" r="3.3" fill="#5AD5CC"/>
<circle cx="299.6" cy="370.8" r="3.3" fill="#B2A41F"/>
<circle cx="242.6" cy="370.1" r="3.3" fill="#B2A41F"/>
<circle cx="262.3" cy="367.6" r="3.3" fill="#EB6969"/>
<circle cx="268.9" cy="368.7" r="3.3" fill="#EB6969"/>
<circle cx="255.8" cy="377.1" r="3.3" fill="#EB6969"/>
<circle cx="265.5" cy="377.1" r="3.3" fill="#EB6969"/>
<circle cx="274" cy="377.1" r="3.3" fill="#F265F8"/>
<circle cx="594.8" cy="62.4" r="3.3" fill="#EB6969"/>
<circle cx="532" cy="225.7" r="3.3" fill="#B2A41F"/>
<circle cx="621.9" cy="222" r="3.3" fill="#EB6969"/>
<circle cx="630.1" cy="243.3" r="3.3" fill="#649BFF"/>
<circle cx="621.9" cy="279.5" r="3.3" fill="#B2A41F"/>
<circle cx="633.6" cy="280.4" r="3.3" fill="#40D240"/>
<circle cx="398.3" cy="291.8" r="3.3" fill="#EB6969"/>
<circle cx="532" cy="305.3" r="3.3" fill="#5AD5CC"/>
<circle cx="594.6" cy="311.5" r="3.3" fill="#40D240"/>
<circle cx="426" cy="338.6" r="3.3" fill="#5AD5CC"/>
<circle cx="465" cy="370.3" r="3.3" fill="#B2A41F"/>
<circle cx="484.5" cy="360.1" r="3.3" fill="#649BFF"/>
<circle cx="496.5" cy="329.9" r="3.3" fill="#F265F8"/>
<circle cx="524" cy="330.8" r="3.3" fill="#F265F8"/>
<circle cx="516.4" cy="341" r="3.3" fill="#5AD5CC"/>
<circle cx="512.3" cy="340.5" r="3.3" fill="#EB6969"/>
<circle cx="520.1" cy="337.8" r="3.3" fill="#B2A41F"/>
<circle cx="516.4" cy="347" r="3.3" fill="#EB6969"/>
<circle cx="535.5" cy="337.8" r="3.3" fill="#B2A41F"/>
<circle cx="539.4" cy="338.4" r="3.3" fill="#5AD5CC"/>
<circle cx="543.7" cy="339" r="3.3" fill="#B2A41F"/>
<circle cx="535.3" cy="344" r="3.3" fill="#5AD5CC"/>
<circle cx="539.8" cy="344" r="3.3" fill="#5AD5CC"/>
<circle cx="492.5" cy="348.4" r="3.3" fill="#5AD5CC"/>
<circle cx="500.4" cy="348.4" r="3.3" fill="#5AD5CC"/>
<circle cx="500.4" cy="364.5" r="3.3" fill="#F265F8"/>
<circle cx="504.6" cy="364.8" r="3.3" fill="#5AD5CC"/>
<circle cx="512.3" cy="358.1" r="3.3" fill="#B2A41F"/>
<circle cx="516.7" cy="359" r="3.3" fill="#B2A41F"/>
<circle cx="516" cy="362.9" r="3.3" fill="#5AD5CC"/>
<circle cx="516.4" cy="367.7" r="3.3" fill="#5AD5CC"/>
<circle cx="520.4" cy="366.6" r="3.3" fill="#F265F8"/>
<circle cx="523.7" cy="351.2" r="3.3" fill="#B2A41F"/>
<circle cx="532" cy="351.2" r="3.3" fill="#5AD5CC"/>
<circle cx="539.8" cy="350.5" r="3.3" fill="#5AD5CC"/>
<circle cx="539.8" cy="353.4" r="3.3" fill="#5AD5CC"/>
<circle cx="531.6" cy="360.7" r="3.3" fill="#B2A41F"/>
<circle cx="532" cy="363.4" r="3.3" fill="#5AD5CC"/>
<circle cx="539.8" cy="363.4" r="3.3" fill="#EB6969"/>
<circle cx="547.4" cy="363.4" r="3.3" fill="#B2A41F"/>
<circle cx="543.7" cy="370.7" r="3.3" fill="#B2A41F"/>
<circle cx="535.7" cy="374.6" r="3.3" fill="#B2A41F"/>
<circle cx="512.3" cy="377" r="3.3" fill="#F265F8"/>
<circle cx="524" cy="376.9" r="3.3" fill="#5AD5CC"/>
<circle cx="531.8" cy="377.2" r="3.3" fill="#F265F8"/>
<circle cx="543.7" cy="377.2" r="3.3" fill="#F265F8"/>
<circle cx="547.8" cy="377.2" r="3.3" fill="#F265F8"/>
<circle cx="555.1" cy="376.8" r="3.3" fill="#5AD5CC"/>
<circle cx="559.1" cy="377.2" r="3.3" fill="#B2A41F"/>
<circle cx="563.4" cy="377.2" r="3.3" fill="#F265F8"/>
<circle cx="567.1" cy="377.2" r="3.3" fill="#EB6969"/>
<circle cx="551.8" cy="357.1" r="3.3" fill="#EB6969"/>
<circle cx="555.4" cy="352.7" r="3.3" fill="#5AD5CC"/>
<circle cx="559.3" cy="351.2" r="3.3" fill="#EB6969"/>
<circle cx="559.3" cy="361.5" r="3.3" fill="#B2A41F"/>
<circle cx="559.3" cy="365.4" r="3.3" fill="#B2A41F"/>
<circle cx="567.1" cy="362.2" r="3.3" fill="#5AD5CC"/>
<circle cx="567.1" cy="367.7" r="3.3" fill="#5AD5CC"/>
<circle cx="571" cy="334" r="3.3" fill="#5AD5CC"/>
<circle cx="571" cy="339.1" r="3.3" fill="#40D240"/>
<circle cx="567.8" cy="353.4" r="3.3" fill="#F265F8"/>
<circle cx="569.3" cy="350.5" r="3.3" fill="#B2A41F"/>
<circle cx="582.9" cy="323.4" r="3.3" fill="#B2A41F"/>
<circle cx="587" cy="325.1" r="3.3" fill="#5AD5CC"/>
<circle cx="575.3" cy="327.4" r="3.3" fill="#40D240"/>
<circle cx="598.7" cy="326.3" r="3.3" fill="#EB6969"/>
<circle cx="606.4" cy="325.1" r="3.3" fill="#EB6969"/>
<circle cx="618.1" cy="318.7" r="3.3" fill="#5AD5CC"/>
<circle cx="614.3" cy="320.4" r="3.3" fill="#EB6969"/>
<circle cx="637.7" cy="314.6" r="3.3" fill="#40D240"/>
<circle cx="637.7" cy="324.8" r="3.3" fill="#40D240"/>
<circle cx="633.7" cy="331.1" r="3.3" fill="#40D240"/>
<circle cx="629.8" cy="333.6" r="3.3" fill="#EB6969"/>
<circle cx="622" cy="331.1" r="3.3" fill="#B2A41F"/>
<circle cx="622" cy="337.7" r="3.3" fill="#EB6969"/>
<circle cx="622" cy="336.5" r="3.3" fill="#40D240"/>
<circle cx="590.7" cy="339.7" r="3.3" fill="#5AD5CC"/>
<circle cx="582.6" cy="343.4" r="3.3" fill="#5AD5CC"/>
<circle cx="590.7" cy="344.2" r="3.3" fill="#40D240"/>
<circle cx="605.3" cy="344.5" r="3.3" fill="#649BFF"/>
<circle cx="606.4" cy="346.5" r="3.3" fill="#40D240"/>
<circle cx="610.4" cy="343.7" r="3.3" fill="#40D240"/>
<circle cx="625.7" cy="343.7" r="3.3" fill="#40D240"/>
<circle cx="633.7" cy="343.8" r="3.3" fill="#EB6969"/>
<circle cx="579" cy="345.3" r="3.3" fill="#40D240"/>
<circle cx="579" cy="347" r="3.3" fill="#B2A41F"/>
<circle cx="587" cy="349.6" r="3.3" fill="#40D240"/>
<circle cx="590.7" cy="349.5" r="3.3" fill="#5AD5CC"/>
<circle cx="598.7" cy="350.3" r="3.3" fill="#40D240"/>
<circle cx="571.2" cy="350.3" r="3.3" fill="#B2A41F"/>
<circle cx="625.7" cy="351" r="3.3" fill="#B2A41F"/>
<circle cx="631.5" cy="349.6" r="3.3" fill="#40D240"/>
<circle cx="638.8" cy="354.6" r="3.3" fill="#40D240"/>
<circle cx="560.7" cy="361.9" r="3.3" fill="#B2A41F"/>
<circle cx="575.3" cy="361.9" r="3.3" fill="#649BFF"/>
<circle cx="582.6" cy="361.2" r="3.3" fill="#EB6969"/>
<circle cx="579" cy="358.2" r="3.3" fill="#B2A41F"/>
<circle cx="583.4" cy="365.5" r="3.3" fill="#B2A41F"/>
<circle cx="586.3" cy="367" r="3.3" fill="#B2A41F"/>
<circle cx="590.7" cy="367" r="3.3" fill="#EB6969"/>
<circle cx="594.3" cy="366.3" r="3.3" fill="#EB6969"/>
<circle cx="590.7" cy="361.2" r="3.3" fill="#40D240"/>
<circle cx="593.6" cy="359" r="3.3" fill="#EB6969"/>
<circle cx="598.7" cy="359" r="3.3" fill="#40D240"/>
<circle cx="602.3" cy="363.4" r="3.3" fill="#B2A41F"/>
<circle cx="606.7" cy="361.9" r="3.3" fill="#EB6969"/>
<circle cx="611.1" cy="364.8" r="3.3" fill="#40D240"/>
<circle cx="603.8" cy="369.2" r="3.3" fill="#EB6969"/>
<circle cx="598.7" cy="370.7" r="3.3" fill="#B2A41F"/>
<circle cx="579" cy="370.7" r="3.3" fill="#40D240"/>
<circle cx="610.4" cy="369.2" r="3.3" fill="#40D240"/>
<circle cx="615.5" cy="369.2" r="3.3" fill="#EB6969"/>
<circle cx="618.4" cy="369.2" r="3.3" fill="#EB6969"/>
<circle cx="618.4" cy="359" r="3.3" fill="#40D240"/>
<circle cx="622.8" cy="363.4" r="3.3" fill="#40D240"/>
<circle cx="622.8" cy="367" r="3.3" fill="#5AD5CC"/>
<circle cx="626.4" cy="359" r="3.3" fill="#B2A41F"/>
<circle cx="633" cy="359" r="3.3" fill="#B2A41F"/>
<circle cx="634.5" cy="363.4" r="3.3" fill="#40D240"/>
<circle cx="637.4" cy="361.2" r="3.3" fill="#40D240"/>
<circle cx="638.1" cy="364.1" r="3.3" fill="#EB6969"/>
<circle cx="616.2" cy="367.7" r="3.3" fill="#EB6969"/>
<circle cx="562.9" cy="377.2" r="3.3" fill="#F265F8"/>
<circle cx="571.7" cy="377.2" r="3.3" fill="#F265F8"/>
<circle cx="579" cy="377.2" r="3.3" fill="#B2A41F"/>
<circle cx="587" cy="377.2" r="3.3" fill="#B2A41F"/>
<circle cx="595" cy="377.2" r="3.3" fill="#B2A41F"/>
<circle cx="598.7" cy="377.2" r="3.3" fill="#B2A41F"/>
<circle cx="602.3" cy="377.2" r="3.3" fill="#EB6969"/>
<circle cx="606.7" cy="377.2" r="3.3" fill="#EB6969"/>
<circle cx="610.4" cy="377.2" r="3.3" fill="#B2A41F"/>
<circle cx="614" cy="377.2" r="3.3" fill="#EB6969"/>
<circle cx="618.4" cy="377.2" r="3.3" fill="#EB6969"/>
<circle cx="626.4" cy="377.2" r="3.3" fill="#EB6969"/>
<circle cx="630.1" cy="377.2" r="3.3" fill="#EB6969"/>
<circle cx="633.7" cy="374.3" r="3.3" fill="#40D240"/>
<circle cx="637.7" cy="377.2" r="3.3" fill="#B2A41F"/>
<circle cx="177.7" cy="503.9" r="3.3" fill="#B2A41F"/>
<circle cx="151.4" cy="513.1" r="3.3" fill="#40D240"/>
<circle cx="168.5" cy="522.8" r="3.3" fill="#B2A41F"/>
<circle cx="177.7" cy="524.2" r="3.3" fill="#40D240"/>
<circle cx="171.2" cy="538.6" r="3.3" fill="#40D240"/>
<circle cx="137.5" cy="545.7" r="3.3" fill="#B2A41F"/>
<circle cx="173.3" cy="551.2" r="3.3" fill="#40D240"/>
<circle cx="101" cy="564.4" r="3.3" fill="#40D240"/>
<circle cx="148" cy="575.7" r="3.3" fill="#40D240"/>
<circle cx="157.2" cy="574.1" r="3.3" fill="#40D240"/>
<circle cx="175.6" cy="577.5" r="3.3" fill="#F265F8"/>
<circle cx="109.4" cy="594.3" r="3.3" fill="#40D240"/>
<circle cx="147.5" cy="595.9" r="3.3" fill="#40D240"/>
<circle cx="168" cy="593.8" r="3.3" fill="#40D240"/>
<circle cx="179.8" cy="589.3" r="3.3" fill="#40D240"/>
<circle cx="186.4" cy="597.7" r="3.3" fill="#40D240"/>
<circle cx="181.7" cy="600.4" r="3.3" fill="#40D240"/>
<circle cx="188.2" cy="603" r="3.3" fill="#40D240"/>
<circle cx="167.2" cy="605.6" r="3.3" fill="#40D240"/>
<circle cx="147" cy="606.1" r="3.3" fill="#40D240"/>
<circle cx="138.3" cy="608.8" r="3.3" fill="#40D240"/>
<circle cx="128.3" cy="614.8" r="3.3" fill="#40D240"/>
<circle cx="141.7" cy="618" r="3.3" fill="#40D240"/>
<circle cx="156.2" cy="615.3" r="3.3" fill="#F265F8"/>
<circle cx="193.5" cy="608.2" r="3.3" fill="#5AD5CC"/>
<circle cx="201.4" cy="601.7" r="3.3" fill="#B2A41F"/>
<circle cx="85" cy="618.5" r="3.3" fill="#40D240"/>
<circle cx="215.8" cy="608.8" r="3.3" fill="#40D240"/>
<circle cx="211.1" cy="615" r="3.3" fill="#40D240"/>
<circle cx="199" cy="547.3" r="3.3" fill="#40D240"/>
<circle cx="201.4" cy="561.7" r="3.3" fill="#40D240"/>
<circle cx="210" cy="564.9" r="3.3" fill="#40D240"/>
<circle cx="211.9" cy="520.7" r="3.3" fill="#B2A41F"/>
<circle cx="216.3" cy="528.1" r="3.3" fill="#B2A41F"/>
<circle cx="217.1" cy="541.8" r="3.3" fill="#B2A41F"/>
<circle cx="223.2" cy="546.5" r="3.3" fill="#B2A41F"/>
<circle cx="225.8" cy="557" r="3.3" fill="#B2A41F"/>
<circle cx="224.5" cy="534" r="3.3" fill="#B2A41F"/>
<circle cx="223.7" cy="529.9" r="3.3" fill="#40D240"/>
<circle cx="225" cy="537.3" r="3.3" fill="#40D240"/>
<circle cx="229" cy="522.8" r="3.3" fill="#B2A41F"/>
<circle cx="234.2" cy="527.6" r="3.3" fill="#EB6969"/>
<circle cx="232.1" cy="531.3" r="3.3" fill="#40D240"/>
<circle cx="235" cy="503.9" r="3.3" fill="#B2A41F"/>
<circle cx="232.1" cy="506.3" r="3.3" fill="#EB6969"/>
<circle cx="232.9" cy="510.2" r="3.3" fill="#B2A41F"/>
<circle cx="244.7" cy="522.8" r="3.3" fill="#B2A41F"/>
<circle cx="248.7" cy="521" r="3.3" fill="#40D240"/>
<circle cx="243.4" cy="566.2" r="3.3" fill="#5AD5CC"/>
<circle cx="248.7" cy="563" r="3.3" fill="#5AD5CC"/>
<circle cx="226.9" cy="573.6" r="3.3" fill="#40D240"/>
<circle cx="211.1" cy="578" r="3.3" fill="#40D240"/>
<circle cx="246" cy="579.3" r="3.3" fill="#5AD5CC"/>
<circle cx="242.1" cy="584.6" r="3.3" fill="#5AD5CC"/>
<circle cx="231.6" cy="591.2" r="3.3" fill="#B2A41F"/>
<circle cx="230.8" cy="593.8" r="3.3" fill="#5AD5CC"/>
<circle cx="241.3" cy="607.7" r="3.3" fill="#5AD5CC"/>
<circle cx="255.2" cy="513.6" r="3.3" fill="#B2A41F"/>
<circle cx="272.8" cy="508.4" r="3.3" fill="#EB6969"/>
<circle cx="292" cy="517.1" r="3.3" fill="#B2A41F"/>
<circle cx="276.3" cy="526.8" r="3.3" fill="#B2A41F"/>
<circle cx="253.7" cy="533.9" r="3.3" fill="#40D240"/>
<circle cx="280.2" cy="539.4" r="3.3" fill="#B2A41F"/>
<circle cx="307" cy="503.9" r="3.3" fill="#B2A41F"/>
<circle cx="308.8" cy="503.9" r="3.3" fill="#5AD5CC"/>
<circle cx="314.9" cy="503.9" r="3.3" fill="#EB6969"/>
<circle cx="322" cy="503.9" r="3.3" fill="#EB6969"/>
<circle cx="322.8" cy="507.1" r="3.3" fill="#B2A41F"/>
<circle cx="320.9" cy="519.4" r="3.3" fill="#B2A41F"/>
<circle cx="351.7" cy="503.9" r="3.3" fill="#5AD5CC"/>
<circle cx="354.3" cy="503.9" r="3.3" fill="#B2A41F"/>
<circle cx="353.5" cy="503.9" r="3.3" fill="#EB6969"/>
<circle cx="358.2" cy="503.9" r="3.3" fill="#5AD5CC"/>
<circle cx="383.7" cy="503.9" r="3.3" fill="#EB6969"/>
<circle cx="409.5" cy="503.9" r="3.3" fill="#EB6969"/>
<circle cx="391.6" cy="514.4" r="3.3" fill="#EB6969"/>
<circle cx="393.2" cy="518.9" r="3.3" fill="#B2A41F"/>
<circle cx="406.1" cy="513.1" r="3.3" fill="#EB6969"/>
<circle cx="352.2" cy="535.5" r="3.3" fill="#F265F8"/>
<circle cx="393.7" cy="532.8" r="3.3" fill="#EB6969"/>
<circle cx="402.1" cy="531.3" r="3.3" fill="#EB6969"/>
<circle cx="399.5" cy="537.3" r="3.3" fill="#EB6969"/>
<circle cx="408.7" cy="539.1" r="3.3" fill="#EB6969"/>
<circle cx="326.7" cy="545.2" r="3.3" fill="#EB6969"/>
<circle cx="329.3" cy="543.3" r="3.3" fill="#EB6969"/>
<circle cx="335.4" cy="547" r="3.3" fill="#EB6969"/>
<circle cx="355.1" cy="547" r="3.3" fill="#EB6969"/>
<circle cx="359.5" cy="547.8" r="3.3" fill="#EB6969"/>
<circle cx="349.8" cy="549.9" r="3.3" fill="#B2A41F"/>
<circle cx="364" cy="550.4" r="3.3" fill="#B2A41F"/>
<circle cx="366.6" cy="551.2" r="3.3" fill="#5AD5CC"/>
<circle cx="325.9" cy="551.7" r="3.3" fill="#5AD5CC"/>
<circle cx="305.7" cy="553.6" r="3.3" fill="#40D240"/>
<circle cx="326.7" cy="557.8" r="3.3" fill="#5AD5CC"/>
<circle cx="353" cy="563.6" r="3.3" fill="#B2A41F"/>
<circle cx="339.1" cy="567" r="3.3" fill="#5AD5CC"/>
<circle cx="409.5" cy="554.4" r="3.3" fill="#B2A41F"/>
<circle cx="388.4" cy="572.2" r="3.3" fill="#EB6969"/>
<circle cx="399.5" cy="580.1" r="3.3" fill="#B2A41F"/>
<circle cx="347.7" cy="585.9" r="3.3" fill="#B2A41F"/>
<circle cx="328" cy="580.6" r="3.3" fill="#5AD5CC"/>
<circle cx="320.1" cy="589.3" r="3.3" fill="#5AD5CC"/>
<circle cx="299.9" cy="561.5" r="3.3" fill="#5AD5CC"/>
<circle cx="306.5" cy="572.8" r="3.3" fill="#5AD5CC"/>
<circle cx="289.9" cy="569.6" r="3.3" fill="#B2A41F"/>
<circle cx="297.8" cy="576.2" r="3.3" fill="#40D240"/>
<circle cx="281.5" cy="579.3" r="3.3" fill="#5AD5CC"/>
<circle cx="283.9" cy="582" r="3.3" fill="#B2A41F"/>
<circle cx="266.3" cy="562.3" r="3.3" fill="#5AD5CC"/>
<circle cx="252.6" cy="564.4" r="3.3" fill="#5AD5CC"/>
<circle cx="261" cy="575.9" r="3.3" fill="#5AD5CC"/>
<circle cx="265" cy="582.5" r="3.3" fill="#B2A41F"/>
<circle cx="265.7" cy="592.5" r="3.3" fill="#5AD5CC"/>
<circle cx="251.5" cy="596.7" r="3.3" fill="#40D240"/>
<circle cx="256.3" cy="595.5" r="3.3" fill="#EB6969"/>
<circle cx="290.4" cy="593.8" r="3.3" fill="#EB6969"/>
<circle cx="362.2" cy="606.5" r="3.3" fill="#5AD5CC"/>
<circle cx="324.1" cy="613.8" r="3.3" fill="#5AD5CC"/>
<circle cx="335.1" cy="611.7" r="3.3" fill="#B2A41F"/>
<circle cx="420" cy="605.6" r="3.3" fill="#5AD5CC"/>
<circle cx="421" cy="503.9" r="3.3" fill="#B2A41F"/>
<circle cx="430.5" cy="503.9" r="3.3" fill="#EB6969"/>
<circle cx="442.8" cy="503.9" r="3.3" fill="#EB6969"/>
<circle cx="466.5" cy="503.9" r="3.3" fill="#EB6969"/>
<circle cx="471" cy="503.9" r="3.3" fill="#B2A41F"/>
<circle cx="473.8" cy="503.9" r="3.3" fill="#F265F8"/>
<circle cx="477.8" cy="503.9" r="3.3" fill="#EB6969"/>
<circle cx="500.1" cy="503.9" r="3.3" fill="#EB6969"/>
<circle cx="518.2" cy="503.9" r="3.3" fill="#B2A41F"/>
<circle cx="520.4" cy="503.9" r="3.3" fill="#EB6969"/>
<circle cx="538.7" cy="503.9" r="3.3" fill="#EB6969"/>
<circle cx="545.3" cy="503.9" r="3.3" fill="#EB6969"/>
<circle cx="581.5" cy="503.9" r="3.3" fill="#F265F8"/>
<circle cx="534.8" cy="511.8" r="3.3" fill="#EB6969"/>
<circle cx="463.9" cy="513.6" r="3.3" fill="#EB6969"/>
<circle cx="436.3" cy="518.9" r="3.3" fill="#EB6969"/>
<circle cx="438.4" cy="517.1" r="3.3" fill="#EB6969"/>
<circle cx="419.2" cy="522.1" r="3.3" fill="#EB6969"/>
<circle cx="430.5" cy="526.8" r="3.3" fill="#EB6969"/>
<circle cx="435" cy="526.3" r="3.3" fill="#B2A41F"/>
<circle cx="442.3" cy="530.2" r="3.3" fill="#B2A41F"/>
<circle cx="451.5" cy="529.9" r="3.3" fill="#EB6969"/>
<circle cx="487" cy="522.1" r="3.3" fill="#EB6969"/>
<circle cx="508.5" cy="525.5" r="3.3" fill="#EB6969"/>
<circle cx="484.1" cy="531.3" r="3.3" fill="#EB6969"/>
<circle cx="439.4" cy="549.9" r="3.3" fill="#EB6969"/>
<circle cx="451.3" cy="554.9" r="3.3" fill="#EB6969"/>
<circle cx="495.4" cy="549.1" r="3.3" fill="#EB6969"/>
<circle cx="536.6" cy="544.7" r="3.3" fill="#EB6969"/>
<circle cx="579" cy="561" r="3.3" fill="#EB6969"/>
<circle cx="477.8" cy="568" r="3.3" fill="#B2A41F"/>
<circle cx="434.4" cy="596.9" r="3.3" fill="#F265F8"/>
<circle cx="543.6" cy="595.1" r="3.3" fill="#F265F8"/>
<circle cx="596.5" cy="518.9" r="3.3" fill="#EB6969"/>
<circle cx="237.2" cy="637" r="3.3" fill="#5AD5CC"/>
<circle cx="145.9" cy="654.4" r="3.3" fill="#649BFF"/>
<circle cx="217.6" cy="657.5" r="3.3" fill="#B2A41F"/>
<circle cx="247.5" cy="665.8" r="3.3" fill="#EB6969"/>
<circle cx="220.4" cy="692" r="3.3" fill="#40D240"/>
<circle cx="124" cy="710.3" r="3.3" fill="#649BFF"/>
<circle cx="260.4" cy="660.1" r="3.3" fill="#40D240"/>
<circle cx="269.6" cy="633" r="3.3" fill="#40D240"/>
<circle cx="311.6" cy="634" r="3.3" fill="#B2A41F"/>
<circle cx="339.2" cy="644.8" r="3.3" fill="#5AD5CC"/>
<circle cx="356.9" cy="643" r="3.3" fill="#5AD5CC"/>
<circle cx="286.3" cy="667" r="3.3" fill="#5AD5CC"/>
<circle cx="292.7" cy="666.7" r="3.3" fill="#B2A41F"/>
<circle cx="306.9" cy="670.1" r="3.3" fill="#5AD5CC"/>
<circle cx="385.3" cy="659.1" r="3.3" fill="#B2A41F"/>
<circle cx="291.9" cy="752.1" r="3.3" fill="#EB6969"/>
<circle cx="418.5" cy="819.1" r="3.3" fill="#F265F8"/>
<circle cx="485.1" cy="819.1" r="3.3" fill="#F265F8"/>
<circle cx="539.6" cy="819.3" r="3.3" fill="#EB6969"/>
<path d="M59.9,342.3 L63.88,342.58 L67.86,342.85 L71.84,343.12 L75.83,343.39 L79.81,343.65 L83.79,343.91 L87.77,344.17 L91.75,344.42 L95.73,344.66 L99.72,344.9 L103.7,345.14 L107.68,345.37 L111.66,345.59 L115.64,345.81 L119.62,346.02 L123.61,346.22 L127.59,346.41 L131.57,346.59 L135.55,346.76 L139.53,346.93 L143.52,347.08 L147.5,347.22 L151.48,347.35 L155.46,347.46 L159.44,347.57 L163.42,347.66 L167.41,347.73 L171.39,347.79 L175.37,347.84 L179.35,347.88 L183.33,347.9 L187.31,347.91 L191.3,347.9 L195.28,347.88 L199.26,347.85 L203.24,347.81 L207.22,347.76 L211.2,347.7 L215.19,347.62 L219.17,347.54 L223.15,347.45 L227.13,347.35 L231.11,347.24 L235.09,347.13 L239.08,347.01 L243.06,346.88 L247.04,346.75 L251.02,346.61 L255,346.47 L258.98,346.32 L262.96,346.17 L266.95,346.01 L270.93,345.85 L274.91,345.69 L278.89,345.53 L282.87,345.36 L286.86,345.19 L290.84,345.01 L294.82,344.83 L298.8,344.66 L298.8,365.35 L294.82,365.06 L290.84,364.78 L286.86,364.5 L282.87,364.22 L278.89,363.94 L274.91,363.67 L270.93,363.4 L266.95,363.14 L262.96,362.87 L258.98,362.61 L255,362.36 L251.02,362.11 L247.04,361.87 L243.06,361.63 L239.08,361.39 L235.09,361.17 L231.11,360.95 L227.13,360.73 L223.15,360.53 L219.17,360.33 L215.19,360.14 L211.2,359.96 L207.22,359.79 L203.24,359.63 L199.26,359.48 L195.28,359.34 L191.3,359.22 L187.31,359.11 L183.33,359.01 L179.35,358.92 L175.37,358.85 L171.39,358.79 L167.41,358.75 L163.42,358.72 L159.44,358.7 L155.46,358.7 L151.48,358.71 L147.5,358.73 L143.52,358.76 L139.53,358.81 L135.55,358.86 L131.57,358.93 L127.59,359.01 L123.61,359.09 L119.62,359.18 L115.64,359.29 L111.66,359.4 L107.68,359.51 L103.7,359.63 L99.72,359.76 L95.73,359.9 L91.75,360.04 L87.77,360.18 L83.79,360.33 L79.81,360.48 L75.83,360.64 L71.84,360.8 L67.86,360.96 L63.88,361.13 L59.9,361.3 Z" fill="#999999" fill-opacity="0.4"/>
<path d="M398.5,331.4 L402.48,331.97 L406.46,332.54 L410.44,333.1 L414.43,333.67 L418.41,334.24 L422.39,334.8 L426.37,335.36 L430.35,335.92 L434.33,336.48 L438.32,337.04 L442.3,337.6 L446.28,338.15 L450.26,338.66 L454.24,339.17 L458.23,339.68 L462.21,340.19 L466.19,340.7 L470.17,341.21 L474.15,341.69 L478.13,342.17 L482.12,342.65 L486.1,343.13 L490.08,343.61 L494.06,344.09 L498.04,344.52 L502.02,344.94 L506,345.36 L509.99,345.77 L513.97,346.19 L517.95,346.6 L521.93,346.94 L525.91,347.18 L529.89,347.42 L533.88,347.66 L537.86,347.9 L541.84,348.14 L545.82,348.35 L549.8,348.42 L553.78,348.49 L557.77,348.56 L561.75,348.64 L565.73,348.71 L569.71,348.78 L573.69,348.85 L577.67,348.93 L581.66,348.97 L585.64,348.98 L589.62,348.99 L593.6,349 L597.58,349.01 L601.57,349.02 L605.55,349.03 L609.53,349.04 L613.51,349.05 L617.49,349.06 L621.47,349.06 L625.45,349.07 L629.44,349.07 L633.42,349.08 L637.4,349.09 L637.4,359.69 L633.42,359.59 L629.44,359.5 L625.45,359.41 L621.47,359.31 L617.49,359.22 L613.51,359.13 L609.53,359.03 L605.55,358.94 L601.57,358.85 L597.58,358.76 L593.6,358.67 L589.62,358.59 L585.64,358.5 L581.66,358.41 L577.67,358.35 L573.69,358.33 L569.71,358.3 L565.73,358.27 L561.75,358.24 L557.77,358.22 L553.78,358.19 L549.8,358.16 L545.82,358.14 L541.84,358.24 L537.86,358.38 L533.88,358.53 L529.89,358.67 L525.91,358.81 L521.93,358.95 L517.95,359.18 L513.97,359.5 L509.99,359.81 L506,360.13 L502.02,360.45 L498.04,360.76 L494.06,361.1 L490.08,361.48 L486.1,361.86 L482.12,362.24 L478.13,362.62 L474.15,363 L470.17,363.38 L466.19,363.79 L462.21,364.2 L458.23,364.61 L454.24,365.02 L450.26,365.44 L446.28,365.85 L442.3,366.29 L438.32,366.75 L434.33,367.21 L430.35,367.67 L426.37,368.13 L422.39,368.59 L418.41,369.06 L414.43,369.52 L410.44,369.99 L406.46,370.46 L402.48,370.93 L398.5,371.4 Z" fill="#999999" fill-opacity="0.4"/>
<path d="M85.8,572.24 L94.31,571.77 L102.82,571.29 L111.33,570.8 L119.85,570.31 L128.36,569.81 L136.87,569.3 L145.38,568.79 L153.89,568.26 L162.41,567.73 L170.92,567.18 L179.43,566.62 L187.94,566.05 L196.45,565.46 L204.96,564.86 L213.47,564.24 L221.99,563.6 L230.5,562.94 L239.01,562.26 L247.52,561.55 L256.03,560.82 L264.54,560.06 L273.06,559.26 L281.57,558.44 L290.08,557.58 L298.59,556.69 L307.1,555.76 L315.62,554.8 L324.13,553.8 L332.64,552.76 L341.15,551.69 L349.66,550.59 L358.17,549.45 L366.69,548.29 L375.2,547.09 L383.71,545.87 L392.22,544.62 L400.73,543.35 L409.24,542.05 L417.75,540.74 L426.27,539.41 L434.78,538.06 L443.29,536.7 L451.8,535.32 L460.31,533.93 L468.82,532.53 L477.34,531.12 L485.85,529.7 L494.36,528.26 L502.87,526.83 L511.38,525.38 L519.89,523.93 L528.41,522.47 L536.92,521 L545.43,519.53 L553.94,518.06 L562.45,516.58 L570.96,515.1 L579.48,513.61 L587.99,512.12 L596.5,510.63 L596.5,553.93 L587.99,554.38 L579.48,554.83 L570.96,555.28 L562.45,555.74 L553.94,556.2 L545.43,556.67 L536.92,557.14 L528.41,557.62 L519.89,558.1 L511.38,558.59 L502.87,559.08 L494.36,559.58 L485.85,560.09 L477.34,560.61 L468.82,561.14 L460.31,561.68 L451.8,562.23 L443.29,562.79 L434.78,563.37 L426.27,563.96 L417.75,564.57 L409.24,565.2 L400.73,565.85 L392.22,566.52 L383.71,567.21 L375.2,567.93 L366.69,568.67 L358.17,569.45 L349.66,570.25 L341.15,571.09 L332.64,571.96 L324.13,572.86 L315.62,573.81 L307.1,574.78 L298.59,575.8 L290.08,576.84 L281.57,577.93 L273.06,579.04 L264.54,580.19 L256.03,581.37 L247.52,582.58 L239.01,583.81 L230.5,585.07 L221.99,586.35 L213.47,587.65 L204.96,588.97 L196.45,590.31 L187.94,591.66 L179.43,593.03 L170.92,594.41 L162.41,595.81 L153.89,597.21 L145.38,598.63 L136.87,600.05 L128.36,601.49 L119.85,602.93 L111.33,604.38 L102.82,605.83 L94.31,607.29 L85.8,608.76 Z" fill="#999999" fill-opacity="0.4"/>
<line x1="59.9" y1="351.8" x2="298.8" y2="355" stroke="#0000FF" stroke-width="3.8"/>
<line x1="398.5" y1="351.4" x2="637.4" y2="354.39" stroke="#0000FF" stroke-width="3.8"/>
<line x1="85.8" y1="590.5" x2="596.5" y2="532.28" stroke="#0000FF" stroke-width="3.8"/>
<line x1="201" y1="57.3" x2="196.4" y2="61.3" stroke="#333" stroke-width="1"/>
<rect x="201" y="45.3" width="49.1" height="18.1" rx="3" ry="3" fill="#fff" fill-opacity="0.8" stroke="#8c8c8c" stroke-width="0.9"/>
<text x="225.55" y="59.55" text-anchor="middle" font-size="13.33" fill="#505050" stroke="#505050" stroke-width="0.2">Eritrea</text>
<line x1="107.4" y1="216.6" x2="104.4" y2="220.7" stroke="#333" stroke-width="1"/>
<rect x="89.1" y="198.2" width="51.5" height="18.4" rx="3" ry="3" fill="#fff" fill-opacity="0.8" stroke="#8c8c8c" stroke-width="0.9"/>
<text x="114.85" y="212.6" text-anchor="middle" font-size="13.33" fill="#505050" stroke="#505050" stroke-width="0.2">Tunisia</text>
<line x1="281.5" y1="231.4" x2="284.4" y2="227" stroke="#333" stroke-width="1"/>
<rect x="252.2" y="231.4" width="44.2" height="18.9" rx="3" ry="3" fill="#fff" fill-opacity="0.8" stroke="#8c8c8c" stroke-width="0.9"/>
<text x="274.3" y="246.05" text-anchor="middle" font-size="13.33" fill="#505050" stroke="#505050" stroke-width="0.2">China</text>
<rect x="46.5" y="244.8" width="55.8" height="18.4" rx="3" ry="3" fill="#fff" fill-opacity="0.8" stroke="#8c8c8c" stroke-width="0.9"/>
<text x="74.4" y="259.2" text-anchor="middle" font-size="13.33" fill="#505050" stroke="#505050" stroke-width="0.2">Canada</text>
<rect x="46.5" y="261.5" width="63" height="18" rx="3" ry="3" fill="#fff" fill-opacity="0.8" stroke="#8c8c8c" stroke-width="0.9"/>
<text x="78" y="275.7" text-anchor="middle" font-size="13.33" fill="#505050" stroke="#505050" stroke-width="0.2">Mongolia</text>
<line x1="96.2" y1="288.7" x2="92.1" y2="282" stroke="#333" stroke-width="1"/>
<rect x="71.7" y="288.7" width="54.5" height="18.4" rx="3" ry="3" fill="#fff" fill-opacity="0.8" stroke="#8c8c8c" stroke-width="0.9"/>
<text x="98.95" y="303.1" text-anchor="middle" font-size="13.33" fill="#505050" stroke="#505050" stroke-width="0.2">Belarus</text>
<line x1="248.2" y1="311.1" x2="250.8" y2="306.7" stroke="#333" stroke-width="1"/>
<rect x="223.2" y="311.1" width="35.9" height="18.6" rx="3" ry="3" fill="#fff" fill-opacity="0.8" stroke="#8c8c8c" stroke-width="0.9"/>
<text x="241.15" y="325.6" text-anchor="middle" font-size="13.33" fill="#505050" stroke="#505050" stroke-width="0.2">Haiti</text>
<line x1="600.2" y1="56.9" x2="596" y2="61" stroke="#333" stroke-width="1"/>
<rect x="600.2" y="45.5" width="49.1" height="18.3" rx="3" ry="3" fill="#fff" fill-opacity="0.8" stroke="#8c8c8c" stroke-width="0.9"/>
<text x="624.75" y="59.85" text-anchor="middle" font-size="13.33" fill="#505050" stroke="#505050" stroke-width="0.2">Eritrea</text>
<line x1="535" y1="220.4" x2="532.7" y2="224.3" stroke="#333" stroke-width="1"/>
<rect x="515.2" y="201.2" width="44.4" height="19.2" rx="3" ry="3" fill="#fff" fill-opacity="0.8" stroke="#8c8c8c" stroke-width="0.9"/>
<text x="537.4" y="216" text-anchor="middle" font-size="13.33" fill="#505050" stroke="#505050" stroke-width="0.2">China</text>
<line x1="623.7" y1="216.4" x2="622.4" y2="220.5" stroke="#333" stroke-width="1"/>
<rect x="598.6" y="198.2" width="50.9" height="18" rx="3" ry="3" fill="#fff" fill-opacity="0.8" stroke="#8c8c8c" stroke-width="0.9"/>
<text x="624.05" y="212.4" text-anchor="middle" font-size="13.33" fill="#505050" stroke="#505050" stroke-width="0.2">Tunisia</text>
<line x1="624.5" y1="239" x2="628.5" y2="241.9" stroke="#333" stroke-width="1"/>
<rect x="568.4" y="228.1" width="56.1" height="18.4" rx="3" ry="3" fill="#fff" fill-opacity="0.8" stroke="#8c8c8c" stroke-width="0.9"/>
<text x="596.45" y="242.5" text-anchor="middle" font-size="13.33" fill="#505050" stroke="#505050" stroke-width="0.2">Canada</text>
<line x1="618" y1="274.1" x2="620.8" y2="278.1" stroke="#333" stroke-width="1"/>
<rect x="579" y="255.9" width="63.5" height="18.2" rx="3" ry="3" fill="#fff" fill-opacity="0.8" stroke="#8c8c8c" stroke-width="0.9"/>
<text x="610.75" y="270.2" text-anchor="middle" font-size="13.33" fill="#505050" stroke="#505050" stroke-width="0.2">Mongolia</text>
<line x1="631.3" y1="286.2" x2="633.1" y2="282.3" stroke="#333" stroke-width="1"/>
<rect x="594.6" y="286.2" width="54.9" height="19" rx="3" ry="3" fill="#fff" fill-opacity="0.8" stroke="#8c8c8c" stroke-width="0.9"/>
<text x="622.05" y="300.9" text-anchor="middle" font-size="13.33" fill="#505050" stroke="#505050" stroke-width="0.2">Belarus</text>
<line x1="239.5" y1="660.7" x2="246.5" y2="665" stroke="#333" stroke-width="1"/>
<rect x="198.1" y="641.6" width="50.9" height="19.1" rx="3" ry="3" fill="#fff" fill-opacity="0.8" stroke="#8c8c8c" stroke-width="0.9"/>
<text x="223.55" y="656.35" text-anchor="middle" font-size="13.33" fill="#505050" stroke="#505050" stroke-width="0.2">Tunisia</text>
<line x1="300.2" y1="661.3" x2="293.5" y2="666" stroke="#333" stroke-width="1"/>
<rect x="286.4" y="642.9" width="60.7" height="18.4" rx="3" ry="3" fill="#fff" fill-opacity="0.8" stroke="#8c8c8c" stroke-width="0.9"/>
<text x="316.75" y="657.3" text-anchor="middle" font-size="13.33" fill="#505050" stroke="#505050" stroke-width="0.2">Thailand</text>
<line x1="281.5" y1="674" x2="285.8" y2="667.4" stroke="#333" stroke-width="1"/>
<rect x="244.4" y="672.9" width="36.8" height="18.4" rx="3" ry="3" fill="#fff" fill-opacity="0.8" stroke="#8c8c8c" stroke-width="0.9"/>
<text x="262.8" y="687.3" text-anchor="middle" font-size="13.33" fill="#505050" stroke="#505050" stroke-width="0.2">Peru</text>
<line x1="315.5" y1="676" x2="307.8" y2="670.6" stroke="#333" stroke-width="1"/>
<rect x="301.4" y="676" width="58.6" height="18.4" rx="3" ry="3" fill="#fff" fill-opacity="0.8" stroke="#8c8c8c" stroke-width="0.9"/>
<text x="330.7" y="690.4" text-anchor="middle" font-size="13.33" fill="#505050" stroke="#505050" stroke-width="0.2">Panama</text>
<line x1="209.8" y1="700.5" x2="219.5" y2="692.8" stroke="#333" stroke-width="1"/>
<rect x="159.8" y="700.5" width="81.6" height="18.4" rx="3" ry="3" fill="#fff" fill-opacity="0.8" stroke="#8c8c8c" stroke-width="0.9"/>
<text x="200.6" y="714.9" text-anchor="middle" font-size="13.33" fill="#505050" stroke="#505050" stroke-width="0.2">Netherlands</text>
<line x1="115.6" y1="716" x2="123" y2="711" stroke="#333" stroke-width="1"/>
<rect x="71.9" y="716.3" width="56.2" height="18" rx="3" ry="3" fill="#fff" fill-opacity="0.8" stroke="#8c8c8c" stroke-width="0.9"/>
<text x="100" y="730.5" text-anchor="middle" font-size="13.33" fill="#505050" stroke="#505050" stroke-width="0.2">Canada</text>
<line x1="300.7" y1="746.6" x2="293" y2="751.3" stroke="#333" stroke-width="1"/>
<rect x="257.6" y="727.6" width="117.5" height="19" rx="3" ry="3" fill="#fff" fill-opacity="0.8" stroke="#8c8c8c" stroke-width="0.9"/>
<text x="316.35" y="742.3" text-anchor="middle" font-size="13.33" fill="#505050" stroke="#505050" stroke-width="0.2">Equatorial Guinea</text>
<line x1="406.3" y1="809.6" x2="417.5" y2="818.3" stroke="#333" stroke-width="1"/>
<rect x="376" y="790.7" width="46" height="18.9" rx="3" ry="3" fill="#fff" fill-opacity="0.8" stroke="#8c8c8c" stroke-width="0.9"/>
<text x="399" y="805.35" text-anchor="middle" font-size="13.33" fill="#505050" stroke="#505050" stroke-width="0.2">Nauru</text>
<rect x="424.7" y="818.4" width="57.8" height="18.7" rx="3" ry="3" fill="#fff" fill-opacity="0.8" stroke="#8c8c8c" stroke-width="0.9"/>
<text x="453.6" y="832.95" text-anchor="middle" font-size="13.33" fill="#505050" stroke="#505050" stroke-width="0.2">Vanuatu</text>
<line x1="548" y1="813.6" x2="540.5" y2="818.5" stroke="#333" stroke-width="1"/>
<rect x="538.9" y="795.1" width="49.4" height="18.5" rx="3" ry="3" fill="#fff" fill-opacity="0.8" stroke="#8c8c8c" stroke-width="0.9"/>
<text x="563.6" y="809.55" text-anchor="middle" font-size="13.33" fill="#505050" stroke="#505050" stroke-width="0.2">Eritrea</text>
<text x="35.3" y="381" text-anchor="end" font-size="10.67" fill="#4D4D4D" stroke="#4D4D4D" stroke-width="0.15">0</text>
<text x="374.8" y="381" text-anchor="end" font-size="10.67" fill="#4D4D4D" stroke="#4D4D4D" stroke-width="0.15">0</text>
<text x="35.5" y="823.3" text-anchor="end" font-size="10.67" fill="#4D4D4D" stroke="#4D4D4D" stroke-width="0.15">0</text>
<text x="35.3" y="302.28" text-anchor="end" font-size="10.67" fill="#4D4D4D" stroke="#4D4D4D" stroke-width="0.15">25</text>
<text x="374.8" y="302.28" text-anchor="end" font-size="10.67" fill="#4D4D4D" stroke="#4D4D4D" stroke-width="0.15">25</text>
<text x="35.5" y="744.42" text-anchor="end" font-size="10.67" fill="#4D4D4D" stroke="#4D4D4D" stroke-width="0.15">25</text>
<text x="35.3" y="223.56" text-anchor="end" font-size="10.67" fill="#4D4D4D" stroke="#4D4D4D" stroke-width="0.15">50</text>
<text x="374.8" y="223.56" text-anchor="end" font-size="10.67" fill="#4D4D4D" stroke="#4D4D4D" stroke-width="0.15">50</text>
<text x="35.5" y="665.54" text-anchor="end" font-size="10.67" fill="#4D4D4D" stroke="#4D4D4D" stroke-width="0.15">50</text>
<text x="35.3" y="144.84" text-anchor="end" font-size="10.67" fill="#4D4D4D" stroke="#4D4D4D" stroke-width="0.15">75</text>
<text x="374.8" y="144.84" text-anchor="end" font-size="10.67" fill="#4D4D4D" stroke="#4D4D4D" stroke-width="0.15">75</text>
<text x="35.5" y="586.66" text-anchor="end" font-size="10.67" fill="#4D4D4D" stroke="#4D4D4D" stroke-width="0.15">75</text>
<text x="35.3" y="66.12" text-anchor="end" font-size="10.67" fill="#4D4D4D" stroke="#4D4D4D" stroke-width="0.15">100</text>
<text x="374.8" y="66.12" text-anchor="end" font-size="10.67" fill="#4D4D4D" stroke="#4D4D4D" stroke-width="0.15">100</text>
<text x="35.5" y="507.78" text-anchor="end" font-size="10.67" fill="#4D4D4D" stroke="#4D4D4D" stroke-width="0.15">100</text>
<text x="58.4" y="413.8" text-anchor="middle" font-size="10.67" fill="#4D4D4D" stroke="#4D4D4D" stroke-width="0.15">0</text>
<text x="142.2" y="413.8" text-anchor="middle" font-size="10.67" fill="#4D4D4D" stroke="#4D4D4D" stroke-width="0.15">50</text>
<text x="226" y="413.8" text-anchor="middle" font-size="10.67" fill="#4D4D4D" stroke="#4D4D4D" stroke-width="0.15">100</text>
<text x="406.5" y="413.8" text-anchor="middle" font-size="10.67" fill="#4D4D4D" stroke="#4D4D4D" stroke-width="0.15">0.4</text>
<text x="484.7" y="413.8" text-anchor="middle" font-size="10.67" fill="#4D4D4D" stroke="#4D4D4D" stroke-width="0.15">0.6</text>
<text x="562.9" y="413.8" text-anchor="middle" font-size="10.67" fill="#4D4D4D" stroke="#4D4D4D" stroke-width="0.15">0.8</text>
<text x="148.65" y="855.3" text-anchor="middle" font-size="10.67" fill="#4D4D4D" stroke="#4D4D4D" stroke-width="0.15">0.3</text>
<text x="278.15" y="855.3" text-anchor="middle" font-size="10.67" fill="#4D4D4D" stroke="#4D4D4D" stroke-width="0.15">0.4</text>
<text x="407.65" y="855.3" text-anchor="middle" font-size="10.67" fill="#4D4D4D" stroke="#4D4D4D" stroke-width="0.15">0.5</text>
<text x="537.15" y="855.3" text-anchor="middle" font-size="10.67" fill="#4D4D4D" stroke="#4D4D4D" stroke-width="0.15">0.6</text>
<text x="191.7" y="428.3" text-anchor="middle" font-size="13.33" fill="#000" stroke="#000" stroke-width="0.2">National Biodiversity Index (NBI)</text>
<text x="531.7" y="428.2" text-anchor="middle" font-size="13.33" fill="#000" stroke="#000" stroke-width="0.2">Red List Index (RLI)</text>
<text x="361.7" y="869.2" text-anchor="middle" font-size="13.33" fill="#000" stroke="#000" stroke-width="0.2">Climate Change Vulnerability Index (CCVI)</text>
<text x="0" y="0" transform="translate(11.8,200) rotate(-90)" text-anchor="middle" font-size="13.5" fill="#000" stroke="#000" stroke-width="0.25">% COP15 media stories</text>
<text x="0" y="0" transform="translate(11.8,642.4) rotate(-90)" text-anchor="middle" font-size="13.5" fill="#000" stroke="#000" stroke-width="0.25">% COP27 media stories</text>
<text x="25.5" y="20.2" text-anchor="middle" font-size="16.5" font-weight="bold" fill="#000">A</text>
<text x="370.1" y="21.4" text-anchor="middle" font-size="16.5" font-weight="bold" fill="#000">B</text>
<text x="23.5" y="440.4" text-anchor="middle" font-size="16.5" font-weight="bold" fill="#000">C</text>
</svg></body></html>
